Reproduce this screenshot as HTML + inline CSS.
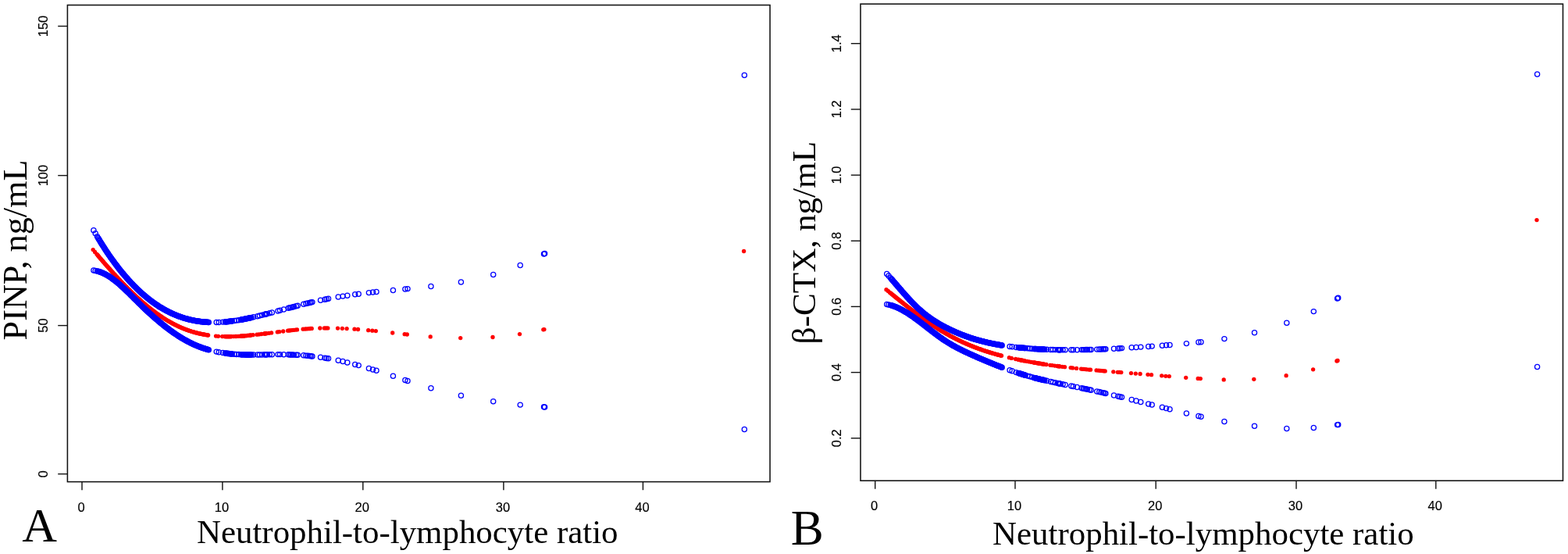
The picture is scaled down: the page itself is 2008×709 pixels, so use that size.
<!DOCTYPE html>
<html><head><meta charset="utf-8"><title>NLR plots</title>
<style>
html,body{margin:0;padding:0;background:#fff;}
body{width:2008px;height:709px;overflow:hidden;position:relative;}
svg{position:absolute;left:0;top:0;}
.tk{font-family:"Liberation Sans",Arial,sans-serif;font-size:16.5px;fill:#000;stroke:#000;stroke-width:0.15px;}
.ttl{font-family:"Liberation Serif","Times New Roman",serif;font-size:42.9px;fill:#000;}
.big{font-family:"Liberation Serif","Times New Roman",serif;font-size:62px;fill:#000;}
</style></head><body>
<svg width="2008" height="709" viewBox="0 0 2008 709">
<rect width="2008" height="709" fill="#fff"/>
<rect x="86.4" y="6.5" width="899.65" height="610.1" fill="none" stroke="#111" stroke-width="1.55"/>
<line x1="74.2" y1="606.6" x2="86.4" y2="606.6" stroke="#111" stroke-width="1.4"/>
<text transform="translate(61.4,606.6) rotate(-90)" text-anchor="middle" class="tk">0</text>
<line x1="74.2" y1="416.6" x2="86.4" y2="416.6" stroke="#111" stroke-width="1.4"/>
<text transform="translate(61.4,416.6) rotate(-90)" text-anchor="middle" class="tk">50</text>
<line x1="74.2" y1="224.6" x2="86.4" y2="224.6" stroke="#111" stroke-width="1.4"/>
<text transform="translate(61.4,224.6) rotate(-90)" text-anchor="middle" class="tk">100</text>
<line x1="74.2" y1="33.5" x2="86.4" y2="33.5" stroke="#111" stroke-width="1.4"/>
<text transform="translate(61.4,33.5) rotate(-90)" text-anchor="middle" class="tk">150</text>
<line x1="105.0" y1="616.6" x2="105.0" y2="627.2" stroke="#111" stroke-width="1.4"/>
<text x="104.0" y="654.5" text-anchor="middle" class="tk">0</text>
<line x1="284.9" y1="616.6" x2="284.9" y2="627.2" stroke="#111" stroke-width="1.4"/>
<text x="283.9" y="654.5" text-anchor="middle" class="tk">10</text>
<line x1="464.8" y1="616.6" x2="464.8" y2="627.2" stroke="#111" stroke-width="1.4"/>
<text x="463.8" y="654.5" text-anchor="middle" class="tk">20</text>
<line x1="644.9" y1="616.6" x2="644.9" y2="627.2" stroke="#111" stroke-width="1.4"/>
<text x="643.9" y="654.5" text-anchor="middle" class="tk">30</text>
<line x1="823.4" y1="616.6" x2="823.4" y2="627.2" stroke="#111" stroke-width="1.4"/>
<text x="822.4" y="654.5" text-anchor="middle" class="tk">40</text>
<text x="252.0" y="694.5" class="ttl">Neutrophil-to-lymphocyte ratio</text>
<text transform="translate(33.8,435.4) rotate(-90)" class="ttl" style="font-size:44.2px">PINP, ng/mL</text>
<text x="28.3" y="692.9" class="big">A</text>
<rect x="1102" y="5.1" width="899.5" height="610.1" fill="none" stroke="#111" stroke-width="1.55"/>
<line x1="1089.8" y1="560.8" x2="1102" y2="560.8" stroke="#111" stroke-width="1.4"/>
<text transform="translate(1076.5,560.8) rotate(-90)" text-anchor="middle" class="tk">0.2</text>
<line x1="1089.8" y1="476.6" x2="1102" y2="476.6" stroke="#111" stroke-width="1.4"/>
<text transform="translate(1076.5,476.6) rotate(-90)" text-anchor="middle" class="tk">0.4</text>
<line x1="1089.8" y1="392.4" x2="1102" y2="392.4" stroke="#111" stroke-width="1.4"/>
<text transform="translate(1076.5,392.4) rotate(-90)" text-anchor="middle" class="tk">0.6</text>
<line x1="1089.8" y1="308.3" x2="1102" y2="308.3" stroke="#111" stroke-width="1.4"/>
<text transform="translate(1076.5,308.3) rotate(-90)" text-anchor="middle" class="tk">0.8</text>
<line x1="1089.8" y1="224.1" x2="1102" y2="224.1" stroke="#111" stroke-width="1.4"/>
<text transform="translate(1076.5,224.1) rotate(-90)" text-anchor="middle" class="tk">1.0</text>
<line x1="1089.8" y1="139.9" x2="1102" y2="139.9" stroke="#111" stroke-width="1.4"/>
<text transform="translate(1076.5,139.9) rotate(-90)" text-anchor="middle" class="tk">1.2</text>
<line x1="1089.8" y1="55.7" x2="1102" y2="55.7" stroke="#111" stroke-width="1.4"/>
<text transform="translate(1076.5,55.7) rotate(-90)" text-anchor="middle" class="tk">1.4</text>
<line x1="1120.7" y1="615.2" x2="1120.7" y2="625.8" stroke="#111" stroke-width="1.4"/>
<text x="1119.7" y="653.1" text-anchor="middle" class="tk">0</text>
<line x1="1300.0" y1="615.2" x2="1300.0" y2="625.8" stroke="#111" stroke-width="1.4"/>
<text x="1299.0" y="653.1" text-anchor="middle" class="tk">10</text>
<line x1="1480.2" y1="615.2" x2="1480.2" y2="625.8" stroke="#111" stroke-width="1.4"/>
<text x="1479.2" y="653.1" text-anchor="middle" class="tk">20</text>
<line x1="1660.0" y1="615.2" x2="1660.0" y2="625.8" stroke="#111" stroke-width="1.4"/>
<text x="1659.0" y="653.1" text-anchor="middle" class="tk">30</text>
<line x1="1838.8" y1="615.2" x2="1838.8" y2="625.8" stroke="#111" stroke-width="1.4"/>
<text x="1837.8" y="653.1" text-anchor="middle" class="tk">40</text>
<text x="1271.1" y="697.2" class="ttl">Neutrophil-to-lymphocyte ratio</text>
<text transform="translate(1043.8,440.4) rotate(-90)" class="ttl" style="font-size:43.2px">β-CTX, ng/mL</text>
<text x="1012.8" y="697.0" class="big" style="font-size:63px">B</text>
<g fill="#ff0000"><circle cx="119.2" cy="319.6" r="2.65"/><circle cx="121.5" cy="322.4" r="2.65"/><circle cx="123.8" cy="325.1" r="2.65"/><circle cx="125.0" cy="326.5" r="2.65"/><circle cx="125.8" cy="327.5" r="2.65"/><circle cx="126.6" cy="328.4" r="2.65"/><circle cx="127.4" cy="329.3" r="2.65"/><circle cx="128.2" cy="330.3" r="2.65"/><circle cx="129.0" cy="331.2" r="2.65"/><circle cx="129.8" cy="332.1" r="2.65"/><circle cx="130.6" cy="333.1" r="2.65"/><circle cx="131.4" cy="334.0" r="2.65"/><circle cx="132.2" cy="334.9" r="2.65"/><circle cx="133.0" cy="335.8" r="2.65"/><circle cx="133.8" cy="336.8" r="2.65"/><circle cx="134.6" cy="337.7" r="2.65"/><circle cx="135.4" cy="338.6" r="2.65"/><circle cx="136.2" cy="339.5" r="2.65"/><circle cx="137.0" cy="340.4" r="2.65"/><circle cx="137.8" cy="341.3" r="2.65"/><circle cx="138.6" cy="342.2" r="2.65"/><circle cx="139.4" cy="343.1" r="2.65"/><circle cx="140.2" cy="344.0" r="2.65"/><circle cx="141.0" cy="344.9" r="2.65"/><circle cx="141.8" cy="345.8" r="2.65"/><circle cx="142.6" cy="346.7" r="2.65"/><circle cx="143.4" cy="347.6" r="2.65"/><circle cx="144.2" cy="348.5" r="2.65"/><circle cx="145.0" cy="349.4" r="2.65"/><circle cx="145.8" cy="350.3" r="2.65"/><circle cx="146.6" cy="351.2" r="2.65"/><circle cx="147.4" cy="352.0" r="2.65"/><circle cx="148.2" cy="352.9" r="2.65"/><circle cx="149.0" cy="353.8" r="2.65"/><circle cx="149.8" cy="354.6" r="2.65"/><circle cx="150.6" cy="355.5" r="2.65"/><circle cx="151.4" cy="356.4" r="2.65"/><circle cx="152.2" cy="357.2" r="2.65"/><circle cx="153.0" cy="358.1" r="2.65"/><circle cx="153.8" cy="358.9" r="2.65"/><circle cx="154.6" cy="359.8" r="2.65"/><circle cx="155.4" cy="360.6" r="2.65"/><circle cx="156.2" cy="361.4" r="2.65"/><circle cx="157.0" cy="362.3" r="2.65"/><circle cx="157.8" cy="363.1" r="2.65"/><circle cx="158.6" cy="363.9" r="2.65"/><circle cx="159.4" cy="364.7" r="2.65"/><circle cx="160.2" cy="365.6" r="2.65"/><circle cx="161.0" cy="366.4" r="2.65"/><circle cx="161.8" cy="367.2" r="2.65"/><circle cx="162.6" cy="368.0" r="2.65"/><circle cx="163.4" cy="368.8" r="2.65"/><circle cx="164.2" cy="369.6" r="2.65"/><circle cx="165.0" cy="370.4" r="2.65"/><circle cx="165.8" cy="371.2" r="2.65"/><circle cx="166.6" cy="372.0" r="2.65"/><circle cx="167.4" cy="372.8" r="2.65"/><circle cx="168.2" cy="373.5" r="2.65"/><circle cx="169.0" cy="374.3" r="2.65"/><circle cx="169.8" cy="375.1" r="2.65"/><circle cx="170.6" cy="375.8" r="2.65"/><circle cx="171.4" cy="376.6" r="2.65"/><circle cx="172.2" cy="377.4" r="2.65"/><circle cx="173.0" cy="378.1" r="2.65"/><circle cx="173.8" cy="378.9" r="2.65"/><circle cx="174.6" cy="379.6" r="2.65"/><circle cx="175.4" cy="380.3" r="2.65"/><circle cx="176.2" cy="381.1" r="2.65"/><circle cx="177.0" cy="381.8" r="2.65"/><circle cx="177.8" cy="382.5" r="2.65"/><circle cx="178.6" cy="383.2" r="2.65"/><circle cx="179.4" cy="384.0" r="2.65"/><circle cx="180.2" cy="384.7" r="2.65"/><circle cx="181.0" cy="385.4" r="2.65"/><circle cx="181.8" cy="386.1" r="2.65"/><circle cx="182.6" cy="386.8" r="2.65"/><circle cx="183.4" cy="387.5" r="2.65"/><circle cx="184.2" cy="388.1" r="2.65"/><circle cx="185.0" cy="388.8" r="2.65"/><circle cx="185.8" cy="389.5" r="2.65"/><circle cx="186.6" cy="390.2" r="2.65"/><circle cx="187.4" cy="390.8" r="2.65"/><circle cx="188.2" cy="391.5" r="2.65"/><circle cx="189.0" cy="392.1" r="2.65"/><circle cx="189.8" cy="392.8" r="2.65"/><circle cx="190.6" cy="393.4" r="2.65"/><circle cx="191.4" cy="394.1" r="2.65"/><circle cx="192.2" cy="394.7" r="2.65"/><circle cx="193.0" cy="395.3" r="2.65"/><circle cx="193.8" cy="396.0" r="2.65"/><circle cx="194.6" cy="396.6" r="2.65"/><circle cx="195.4" cy="397.2" r="2.65"/><circle cx="196.2" cy="397.8" r="2.65"/><circle cx="197.0" cy="398.4" r="2.65"/><circle cx="197.8" cy="399.0" r="2.65"/><circle cx="198.6" cy="399.6" r="2.65"/><circle cx="199.4" cy="400.2" r="2.65"/><circle cx="200.2" cy="400.8" r="2.65"/><circle cx="201.0" cy="401.3" r="2.65"/><circle cx="201.8" cy="401.9" r="2.65"/><circle cx="202.6" cy="402.5" r="2.65"/><circle cx="203.4" cy="403.0" r="2.65"/><circle cx="204.2" cy="403.6" r="2.65"/><circle cx="205.0" cy="404.1" r="2.65"/><circle cx="205.8" cy="404.7" r="2.65"/><circle cx="206.6" cy="405.2" r="2.65"/><circle cx="207.4" cy="405.7" r="2.65"/><circle cx="208.2" cy="406.3" r="2.65"/><circle cx="209.0" cy="406.8" r="2.65"/><circle cx="209.8" cy="407.3" r="2.65"/><circle cx="210.6" cy="407.8" r="2.65"/><circle cx="211.4" cy="408.3" r="2.65"/><circle cx="212.2" cy="408.8" r="2.65"/><circle cx="213.0" cy="409.3" r="2.65"/><circle cx="213.8" cy="409.8" r="2.65"/><circle cx="214.6" cy="410.3" r="2.65"/><circle cx="215.4" cy="410.7" r="2.65"/><circle cx="216.2" cy="411.2" r="2.65"/><circle cx="217.0" cy="411.7" r="2.65"/><circle cx="217.8" cy="412.1" r="2.65"/><circle cx="218.6" cy="412.6" r="2.65"/><circle cx="219.4" cy="413.0" r="2.65"/><circle cx="220.2" cy="413.5" r="2.65"/><circle cx="221.0" cy="413.9" r="2.65"/><circle cx="221.8" cy="414.3" r="2.65"/><circle cx="222.6" cy="414.7" r="2.65"/><circle cx="223.4" cy="415.2" r="2.65"/><circle cx="224.2" cy="415.6" r="2.65"/><circle cx="225.0" cy="416.0" r="2.65"/><circle cx="225.8" cy="416.4" r="2.65"/><circle cx="226.6" cy="416.8" r="2.65"/><circle cx="227.4" cy="417.1" r="2.65"/><circle cx="228.2" cy="417.5" r="2.65"/><circle cx="229.0" cy="417.9" r="2.65"/><circle cx="229.8" cy="418.3" r="2.65"/><circle cx="230.6" cy="418.6" r="2.65"/><circle cx="231.4" cy="419.0" r="2.65"/><circle cx="232.2" cy="419.3" r="2.65"/><circle cx="233.0" cy="419.7" r="2.65"/><circle cx="233.8" cy="420.0" r="2.65"/><circle cx="234.6" cy="420.3" r="2.65"/><circle cx="235.4" cy="420.7" r="2.65"/><circle cx="236.2" cy="421.0" r="2.65"/><circle cx="237.0" cy="421.3" r="2.65"/><circle cx="237.8" cy="421.6" r="2.65"/><circle cx="238.6" cy="421.9" r="2.65"/><circle cx="239.4" cy="422.2" r="2.65"/><circle cx="240.2" cy="422.5" r="2.65"/><circle cx="241.0" cy="422.8" r="2.65"/><circle cx="241.8" cy="423.0" r="2.65"/><circle cx="242.6" cy="423.3" r="2.65"/><circle cx="243.4" cy="423.6" r="2.65"/><circle cx="244.2" cy="423.8" r="2.65"/><circle cx="245.0" cy="424.1" r="2.65"/><circle cx="245.8" cy="424.3" r="2.65"/><circle cx="246.6" cy="424.6" r="2.65"/><circle cx="247.4" cy="424.8" r="2.65"/><circle cx="248.2" cy="425.0" r="2.65"/><circle cx="249.0" cy="425.3" r="2.65"/><circle cx="249.8" cy="425.5" r="2.65"/><circle cx="250.6" cy="425.7" r="2.65"/><circle cx="251.4" cy="425.9" r="2.65"/><circle cx="252.2" cy="426.1" r="2.65"/><circle cx="253.0" cy="426.3" r="2.65"/><circle cx="253.8" cy="426.5" r="2.65"/><circle cx="254.6" cy="426.7" r="2.65"/><circle cx="255.4" cy="426.9" r="2.65"/><circle cx="256.2" cy="427.1" r="2.65"/><circle cx="257.0" cy="427.2" r="2.65"/><circle cx="257.8" cy="427.4" r="2.65"/><circle cx="258.6" cy="427.6" r="2.65"/><circle cx="259.4" cy="427.7" r="2.65"/><circle cx="260.2" cy="427.9" r="2.65"/><circle cx="261.0" cy="428.0" r="2.65"/><circle cx="261.8" cy="428.2" r="2.65"/><circle cx="262.6" cy="428.3" r="2.65"/><circle cx="263.4" cy="428.5" r="2.65"/><circle cx="264.2" cy="428.6" r="2.65"/><circle cx="265.0" cy="428.7" r="2.65"/><circle cx="265.8" cy="428.8" r="2.65"/><circle cx="266.6" cy="429.0" r="2.65"/><circle cx="276.5" cy="430.1" r="2.65"/><circle cx="279.5" cy="430.3" r="2.65"/><circle cx="284.7" cy="430.6" r="2.65"/><circle cx="287.7" cy="430.6" r="2.65"/><circle cx="288.5" cy="430.7" r="2.65"/><circle cx="289.3" cy="430.7" r="2.65"/><circle cx="290.1" cy="430.7" r="2.65"/><circle cx="290.9" cy="430.7" r="2.65"/><circle cx="291.7" cy="430.7" r="2.65"/><circle cx="292.5" cy="430.7" r="2.65"/><circle cx="293.3" cy="430.7" r="2.65"/><circle cx="294.1" cy="430.7" r="2.65"/><circle cx="294.9" cy="430.7" r="2.65"/><circle cx="295.7" cy="430.7" r="2.65"/><circle cx="296.5" cy="430.6" r="2.65"/><circle cx="299.3" cy="430.6" r="2.65"/><circle cx="302.1" cy="430.5" r="2.65"/><circle cx="305.0" cy="430.3" r="2.65"/><circle cx="307.7" cy="430.2" r="2.65"/><circle cx="308.5" cy="430.1" r="2.65"/><circle cx="309.3" cy="430.1" r="2.65"/><circle cx="310.1" cy="430.0" r="2.65"/><circle cx="310.9" cy="429.9" r="2.65"/><circle cx="311.7" cy="429.9" r="2.65"/><circle cx="312.5" cy="429.8" r="2.65"/><circle cx="313.3" cy="429.8" r="2.65"/><circle cx="314.1" cy="429.7" r="2.65"/><circle cx="314.9" cy="429.6" r="2.65"/><circle cx="315.7" cy="429.6" r="2.65"/><circle cx="316.5" cy="429.5" r="2.65"/><circle cx="317.3" cy="429.4" r="2.65"/><circle cx="318.1" cy="429.3" r="2.65"/><circle cx="318.9" cy="429.3" r="2.65"/><circle cx="319.7" cy="429.2" r="2.65"/><circle cx="320.5" cy="429.1" r="2.65"/><circle cx="321.3" cy="429.0" r="2.65"/><circle cx="324.0" cy="428.7" r="2.65"/><circle cx="329.0" cy="428.2" r="2.65"/><circle cx="331.7" cy="427.9" r="2.65"/><circle cx="334.8" cy="427.5" r="2.65"/><circle cx="338.1" cy="427.1" r="2.65"/><circle cx="338.9" cy="427.0" r="2.65"/><circle cx="339.7" cy="426.9" r="2.65"/><circle cx="340.5" cy="426.8" r="2.65"/><circle cx="341.3" cy="426.7" r="2.65"/><circle cx="344.5" cy="426.3" r="2.65"/><circle cx="347.6" cy="425.9" r="2.65"/><circle cx="355.3" cy="424.9" r="2.65"/><circle cx="357.8" cy="424.6" r="2.65"/><circle cx="362.7" cy="424.0" r="2.65"/><circle cx="368.6" cy="423.2" r="2.65"/><circle cx="370.5" cy="423.0" r="2.65"/><circle cx="372.1" cy="422.8" r="2.65"/><circle cx="374.0" cy="422.6" r="2.65"/><circle cx="375.8" cy="422.4" r="2.65"/><circle cx="378.5" cy="422.1" r="2.65"/><circle cx="380.5" cy="421.9" r="2.65"/><circle cx="388.1" cy="421.2" r="2.65"/><circle cx="391.1" cy="421.0" r="2.65"/><circle cx="393.5" cy="420.8" r="2.65"/><circle cx="395.8" cy="420.7" r="2.65"/><circle cx="397.5" cy="420.5" r="2.65"/><circle cx="399.2" cy="420.4" r="2.65"/><circle cx="409.8" cy="420.0" r="2.65"/><circle cx="415.3" cy="419.9" r="2.65"/><circle cx="417.5" cy="419.9" r="2.65"/><circle cx="419.8" cy="419.9" r="2.65"/><circle cx="432.5" cy="420.1" r="2.65"/><circle cx="438.3" cy="420.3" r="2.65"/><circle cx="444.1" cy="420.6" r="2.65"/><circle cx="454.0" cy="421.2" r="2.65"/><circle cx="458.5" cy="421.5" r="2.65"/><circle cx="471.7" cy="422.7" r="2.65"/><circle cx="476.8" cy="423.2" r="2.65"/><circle cx="481.3" cy="423.6" r="2.65"/><circle cx="502.7" cy="426.0" r="2.65"/><circle cx="518.2" cy="427.7" r="2.65"/><circle cx="521.3" cy="428.0" r="2.65"/><circle cx="551.2" cy="430.9" r="2.65"/><circle cx="589.7" cy="432.6" r="2.65"/><circle cx="631.0" cy="431.5" r="2.65"/><circle cx="665.5" cy="427.6" r="2.65"/><circle cx="695.8" cy="421.8" r="2.65"/><circle cx="696.9" cy="421.6" r="2.65"/><circle cx="952.6" cy="321.5" r="2.65"/></g>
<g fill="none" stroke="#0000ff" stroke-width="1.25"><circle cx="119.9" cy="294.8" r="3.1"/><circle cx="122.2" cy="298.8" r="3.1"/><circle cx="124.5" cy="302.7" r="3.1"/><circle cx="125.7" cy="304.7" r="3.1"/><circle cx="126.5" cy="306.0" r="3.1"/><circle cx="127.3" cy="307.3" r="3.1"/><circle cx="128.1" cy="308.6" r="3.1"/><circle cx="128.9" cy="309.9" r="3.1"/><circle cx="129.7" cy="311.2" r="3.1"/><circle cx="130.5" cy="312.5" r="3.1"/><circle cx="131.3" cy="313.8" r="3.1"/><circle cx="132.1" cy="315.0" r="3.1"/><circle cx="132.9" cy="316.3" r="3.1"/><circle cx="133.7" cy="317.5" r="3.1"/><circle cx="134.5" cy="318.7" r="3.1"/><circle cx="135.3" cy="319.9" r="3.1"/><circle cx="136.1" cy="321.2" r="3.1"/><circle cx="136.9" cy="322.4" r="3.1"/><circle cx="137.7" cy="323.5" r="3.1"/><circle cx="138.5" cy="324.7" r="3.1"/><circle cx="139.3" cy="325.9" r="3.1"/><circle cx="140.1" cy="327.1" r="3.1"/><circle cx="140.9" cy="328.2" r="3.1"/><circle cx="141.7" cy="329.4" r="3.1"/><circle cx="142.5" cy="330.5" r="3.1"/><circle cx="143.3" cy="331.6" r="3.1"/><circle cx="144.1" cy="332.7" r="3.1"/><circle cx="144.9" cy="333.8" r="3.1"/><circle cx="145.7" cy="334.9" r="3.1"/><circle cx="146.5" cy="336.0" r="3.1"/><circle cx="147.3" cy="337.1" r="3.1"/><circle cx="148.1" cy="338.2" r="3.1"/><circle cx="148.9" cy="339.2" r="3.1"/><circle cx="149.7" cy="340.3" r="3.1"/><circle cx="150.5" cy="341.3" r="3.1"/><circle cx="151.3" cy="342.4" r="3.1"/><circle cx="152.1" cy="343.4" r="3.1"/><circle cx="152.9" cy="344.4" r="3.1"/><circle cx="153.7" cy="345.4" r="3.1"/><circle cx="154.5" cy="346.4" r="3.1"/><circle cx="155.3" cy="347.4" r="3.1"/><circle cx="156.1" cy="348.4" r="3.1"/><circle cx="156.9" cy="349.4" r="3.1"/><circle cx="157.7" cy="350.3" r="3.1"/><circle cx="158.5" cy="351.3" r="3.1"/><circle cx="159.3" cy="352.2" r="3.1"/><circle cx="160.1" cy="353.2" r="3.1"/><circle cx="160.9" cy="354.1" r="3.1"/><circle cx="161.7" cy="355.0" r="3.1"/><circle cx="162.5" cy="355.9" r="3.1"/><circle cx="163.3" cy="356.8" r="3.1"/><circle cx="164.1" cy="357.7" r="3.1"/><circle cx="164.9" cy="358.6" r="3.1"/><circle cx="165.7" cy="359.5" r="3.1"/><circle cx="166.5" cy="360.4" r="3.1"/><circle cx="167.3" cy="361.2" r="3.1"/><circle cx="168.1" cy="362.1" r="3.1"/><circle cx="168.9" cy="362.9" r="3.1"/><circle cx="169.7" cy="363.8" r="3.1"/><circle cx="170.5" cy="364.6" r="3.1"/><circle cx="171.3" cy="365.4" r="3.1"/><circle cx="172.1" cy="366.2" r="3.1"/><circle cx="172.9" cy="367.1" r="3.1"/><circle cx="173.7" cy="367.8" r="3.1"/><circle cx="174.5" cy="368.6" r="3.1"/><circle cx="175.3" cy="369.4" r="3.1"/><circle cx="176.1" cy="370.2" r="3.1"/><circle cx="176.9" cy="371.0" r="3.1"/><circle cx="177.7" cy="371.7" r="3.1"/><circle cx="178.5" cy="372.5" r="3.1"/><circle cx="179.3" cy="373.2" r="3.1"/><circle cx="180.1" cy="373.9" r="3.1"/><circle cx="180.9" cy="374.7" r="3.1"/><circle cx="181.7" cy="375.4" r="3.1"/><circle cx="182.5" cy="376.1" r="3.1"/><circle cx="183.3" cy="376.8" r="3.1"/><circle cx="184.1" cy="377.5" r="3.1"/><circle cx="184.9" cy="378.2" r="3.1"/><circle cx="185.7" cy="378.8" r="3.1"/><circle cx="186.5" cy="379.5" r="3.1"/><circle cx="187.3" cy="380.2" r="3.1"/><circle cx="188.1" cy="380.8" r="3.1"/><circle cx="188.9" cy="381.5" r="3.1"/><circle cx="189.7" cy="382.1" r="3.1"/><circle cx="190.5" cy="382.7" r="3.1"/><circle cx="191.3" cy="383.4" r="3.1"/><circle cx="192.1" cy="384.0" r="3.1"/><circle cx="192.9" cy="384.6" r="3.1"/><circle cx="193.7" cy="385.2" r="3.1"/><circle cx="194.5" cy="385.8" r="3.1"/><circle cx="195.3" cy="386.4" r="3.1"/><circle cx="196.1" cy="387.0" r="3.1"/><circle cx="196.9" cy="387.5" r="3.1"/><circle cx="197.7" cy="388.1" r="3.1"/><circle cx="198.5" cy="388.7" r="3.1"/><circle cx="199.3" cy="389.2" r="3.1"/><circle cx="200.1" cy="389.8" r="3.1"/><circle cx="200.9" cy="390.3" r="3.1"/><circle cx="201.7" cy="390.8" r="3.1"/><circle cx="202.5" cy="391.3" r="3.1"/><circle cx="203.3" cy="391.9" r="3.1"/><circle cx="204.1" cy="392.4" r="3.1"/><circle cx="204.9" cy="392.9" r="3.1"/><circle cx="205.7" cy="393.4" r="3.1"/><circle cx="206.5" cy="393.8" r="3.1"/><circle cx="207.3" cy="394.3" r="3.1"/><circle cx="208.1" cy="394.8" r="3.1"/><circle cx="208.9" cy="395.3" r="3.1"/><circle cx="209.7" cy="395.7" r="3.1"/><circle cx="210.5" cy="396.2" r="3.1"/><circle cx="211.3" cy="396.6" r="3.1"/><circle cx="212.1" cy="397.0" r="3.1"/><circle cx="212.9" cy="397.5" r="3.1"/><circle cx="213.7" cy="397.9" r="3.1"/><circle cx="214.5" cy="398.3" r="3.1"/><circle cx="215.3" cy="398.7" r="3.1"/><circle cx="216.1" cy="399.1" r="3.1"/><circle cx="216.9" cy="399.5" r="3.1"/><circle cx="217.7" cy="399.9" r="3.1"/><circle cx="218.5" cy="400.3" r="3.1"/><circle cx="219.3" cy="400.7" r="3.1"/><circle cx="220.1" cy="401.0" r="3.1"/><circle cx="220.9" cy="401.4" r="3.1"/><circle cx="221.7" cy="401.8" r="3.1"/><circle cx="222.5" cy="402.1" r="3.1"/><circle cx="223.3" cy="402.5" r="3.1"/><circle cx="224.1" cy="402.8" r="3.1"/><circle cx="224.9" cy="403.1" r="3.1"/><circle cx="225.7" cy="403.5" r="3.1"/><circle cx="226.5" cy="403.8" r="3.1"/><circle cx="227.3" cy="404.1" r="3.1"/><circle cx="228.1" cy="404.4" r="3.1"/><circle cx="228.9" cy="404.7" r="3.1"/><circle cx="229.7" cy="405.0" r="3.1"/><circle cx="230.5" cy="405.3" r="3.1"/><circle cx="231.3" cy="405.6" r="3.1"/><circle cx="232.1" cy="405.8" r="3.1"/><circle cx="232.9" cy="406.1" r="3.1"/><circle cx="233.7" cy="406.4" r="3.1"/><circle cx="234.5" cy="406.6" r="3.1"/><circle cx="235.3" cy="406.9" r="3.1"/><circle cx="236.1" cy="407.1" r="3.1"/><circle cx="236.9" cy="407.4" r="3.1"/><circle cx="237.7" cy="407.6" r="3.1"/><circle cx="238.5" cy="407.8" r="3.1"/><circle cx="239.3" cy="408.0" r="3.1"/><circle cx="240.1" cy="408.3" r="3.1"/><circle cx="240.9" cy="408.5" r="3.1"/><circle cx="241.7" cy="408.7" r="3.1"/><circle cx="242.5" cy="408.9" r="3.1"/><circle cx="243.3" cy="409.1" r="3.1"/><circle cx="244.1" cy="409.3" r="3.1"/><circle cx="244.9" cy="409.4" r="3.1"/><circle cx="245.7" cy="409.6" r="3.1"/><circle cx="246.5" cy="409.8" r="3.1"/><circle cx="247.3" cy="409.9" r="3.1"/><circle cx="248.1" cy="410.1" r="3.1"/><circle cx="248.9" cy="410.3" r="3.1"/><circle cx="249.7" cy="410.4" r="3.1"/><circle cx="250.5" cy="410.6" r="3.1"/><circle cx="251.3" cy="410.7" r="3.1"/><circle cx="252.1" cy="410.8" r="3.1"/><circle cx="252.9" cy="411.0" r="3.1"/><circle cx="253.7" cy="411.1" r="3.1"/><circle cx="254.5" cy="411.2" r="3.1"/><circle cx="255.3" cy="411.3" r="3.1"/><circle cx="256.1" cy="411.4" r="3.1"/><circle cx="256.9" cy="411.5" r="3.1"/><circle cx="257.7" cy="411.6" r="3.1"/><circle cx="258.5" cy="411.7" r="3.1"/><circle cx="259.3" cy="411.8" r="3.1"/><circle cx="260.1" cy="411.9" r="3.1"/><circle cx="260.9" cy="412.0" r="3.1"/><circle cx="261.7" cy="412.0" r="3.1"/><circle cx="262.5" cy="412.1" r="3.1"/><circle cx="263.3" cy="412.2" r="3.1"/><circle cx="264.1" cy="412.2" r="3.1"/><circle cx="264.9" cy="412.3" r="3.1"/><circle cx="265.7" cy="412.3" r="3.1"/><circle cx="266.5" cy="412.4" r="3.1"/><circle cx="267.3" cy="412.4" r="3.1"/><circle cx="277.2" cy="412.5" r="3.1"/><circle cx="280.2" cy="412.4" r="3.1"/><circle cx="285.4" cy="412.1" r="3.1"/><circle cx="288.4" cy="411.9" r="3.1"/><circle cx="289.2" cy="411.8" r="3.1"/><circle cx="290.0" cy="411.8" r="3.1"/><circle cx="290.8" cy="411.7" r="3.1"/><circle cx="291.6" cy="411.6" r="3.1"/><circle cx="292.4" cy="411.5" r="3.1"/><circle cx="293.2" cy="411.4" r="3.1"/><circle cx="294.0" cy="411.3" r="3.1"/><circle cx="294.8" cy="411.2" r="3.1"/><circle cx="295.6" cy="411.1" r="3.1"/><circle cx="296.4" cy="411.0" r="3.1"/><circle cx="297.2" cy="410.9" r="3.1"/><circle cx="300.0" cy="410.5" r="3.1"/><circle cx="302.8" cy="410.1" r="3.1"/><circle cx="305.7" cy="409.7" r="3.1"/><circle cx="308.4" cy="409.2" r="3.1"/><circle cx="309.2" cy="409.0" r="3.1"/><circle cx="310.0" cy="408.9" r="3.1"/><circle cx="310.8" cy="408.7" r="3.1"/><circle cx="311.6" cy="408.6" r="3.1"/><circle cx="312.4" cy="408.4" r="3.1"/><circle cx="313.2" cy="408.3" r="3.1"/><circle cx="314.0" cy="408.1" r="3.1"/><circle cx="314.8" cy="408.0" r="3.1"/><circle cx="315.6" cy="407.8" r="3.1"/><circle cx="316.4" cy="407.6" r="3.1"/><circle cx="317.2" cy="407.5" r="3.1"/><circle cx="318.0" cy="407.3" r="3.1"/><circle cx="318.8" cy="407.1" r="3.1"/><circle cx="319.6" cy="407.0" r="3.1"/><circle cx="320.4" cy="406.8" r="3.1"/><circle cx="321.2" cy="406.6" r="3.1"/><circle cx="322.0" cy="406.4" r="3.1"/><circle cx="324.7" cy="405.8" r="3.1"/><circle cx="329.7" cy="404.7" r="3.1"/><circle cx="332.4" cy="404.0" r="3.1"/><circle cx="335.5" cy="403.3" r="3.1"/><circle cx="338.8" cy="402.4" r="3.1"/><circle cx="339.6" cy="402.2" r="3.1"/><circle cx="340.4" cy="402.0" r="3.1"/><circle cx="341.2" cy="401.8" r="3.1"/><circle cx="342.0" cy="401.6" r="3.1"/><circle cx="345.2" cy="400.8" r="3.1"/><circle cx="348.3" cy="400.0" r="3.1"/><circle cx="356.0" cy="397.9" r="3.1"/><circle cx="358.5" cy="397.2" r="3.1"/><circle cx="363.4" cy="395.9" r="3.1"/><circle cx="369.3" cy="394.3" r="3.1"/><circle cx="371.2" cy="393.8" r="3.1"/><circle cx="372.8" cy="393.4" r="3.1"/><circle cx="374.7" cy="392.9" r="3.1"/><circle cx="376.5" cy="392.4" r="3.1"/><circle cx="379.2" cy="391.7" r="3.1"/><circle cx="381.2" cy="391.2" r="3.1"/><circle cx="388.8" cy="389.3" r="3.1"/><circle cx="391.8" cy="388.5" r="3.1"/><circle cx="394.2" cy="388.0" r="3.1"/><circle cx="396.5" cy="387.4" r="3.1"/><circle cx="398.2" cy="387.0" r="3.1"/><circle cx="399.9" cy="386.6" r="3.1"/><circle cx="410.5" cy="384.3" r="3.1"/><circle cx="416.0" cy="383.2" r="3.1"/><circle cx="418.2" cy="382.8" r="3.1"/><circle cx="420.5" cy="382.3" r="3.1"/><circle cx="433.2" cy="380.0" r="3.1"/><circle cx="439.0" cy="379.1" r="3.1"/><circle cx="444.8" cy="378.2" r="3.1"/><circle cx="454.7" cy="376.8" r="3.1"/><circle cx="459.2" cy="376.2" r="3.1"/><circle cx="472.4" cy="374.6" r="3.1"/><circle cx="477.5" cy="374.0" r="3.1"/><circle cx="482.0" cy="373.5" r="3.1"/><circle cx="503.4" cy="371.4" r="3.1"/><circle cx="518.9" cy="369.9" r="3.1"/><circle cx="522.0" cy="369.6" r="3.1"/><circle cx="551.9" cy="366.5" r="3.1"/><circle cx="590.4" cy="361.0" r="3.1"/><circle cx="631.7" cy="351.5" r="3.1"/><circle cx="666.2" cy="339.5" r="3.1"/><circle cx="696.5" cy="325.0" r="3.1"/><circle cx="697.6" cy="324.4" r="3.1"/><circle cx="119.9" cy="346.0" r="3.1"/><circle cx="122.2" cy="346.4" r="3.1"/><circle cx="124.5" cy="346.9" r="3.1"/><circle cx="125.7" cy="347.2" r="3.1"/><circle cx="126.5" cy="347.4" r="3.1"/><circle cx="127.3" cy="347.7" r="3.1"/><circle cx="128.1" cy="348.0" r="3.1"/><circle cx="128.9" cy="348.3" r="3.1"/><circle cx="129.7" cy="348.6" r="3.1"/><circle cx="130.5" cy="348.9" r="3.1"/><circle cx="131.3" cy="349.2" r="3.1"/><circle cx="132.1" cy="349.6" r="3.1"/><circle cx="132.9" cy="350.0" r="3.1"/><circle cx="133.7" cy="350.4" r="3.1"/><circle cx="134.5" cy="350.8" r="3.1"/><circle cx="135.3" cy="351.2" r="3.1"/><circle cx="136.1" cy="351.6" r="3.1"/><circle cx="136.9" cy="352.1" r="3.1"/><circle cx="137.7" cy="352.5" r="3.1"/><circle cx="138.5" cy="353.0" r="3.1"/><circle cx="139.3" cy="353.5" r="3.1"/><circle cx="140.1" cy="354.0" r="3.1"/><circle cx="140.9" cy="354.5" r="3.1"/><circle cx="141.7" cy="355.1" r="3.1"/><circle cx="142.5" cy="355.6" r="3.1"/><circle cx="143.3" cy="356.2" r="3.1"/><circle cx="144.1" cy="356.8" r="3.1"/><circle cx="144.9" cy="357.4" r="3.1"/><circle cx="145.7" cy="357.9" r="3.1"/><circle cx="146.5" cy="358.6" r="3.1"/><circle cx="147.3" cy="359.2" r="3.1"/><circle cx="148.1" cy="359.8" r="3.1"/><circle cx="148.9" cy="360.5" r="3.1"/><circle cx="149.7" cy="361.1" r="3.1"/><circle cx="150.5" cy="361.8" r="3.1"/><circle cx="151.3" cy="362.5" r="3.1"/><circle cx="152.1" cy="363.1" r="3.1"/><circle cx="152.9" cy="363.8" r="3.1"/><circle cx="153.7" cy="364.5" r="3.1"/><circle cx="154.5" cy="365.2" r="3.1"/><circle cx="155.3" cy="366.0" r="3.1"/><circle cx="156.1" cy="366.7" r="3.1"/><circle cx="156.9" cy="367.4" r="3.1"/><circle cx="157.7" cy="368.1" r="3.1"/><circle cx="158.5" cy="368.9" r="3.1"/><circle cx="159.3" cy="369.6" r="3.1"/><circle cx="160.1" cy="370.4" r="3.1"/><circle cx="160.9" cy="371.2" r="3.1"/><circle cx="161.7" cy="371.9" r="3.1"/><circle cx="162.5" cy="372.7" r="3.1"/><circle cx="163.3" cy="373.5" r="3.1"/><circle cx="164.1" cy="374.2" r="3.1"/><circle cx="164.9" cy="375.0" r="3.1"/><circle cx="165.7" cy="375.8" r="3.1"/><circle cx="166.5" cy="376.6" r="3.1"/><circle cx="167.3" cy="377.4" r="3.1"/><circle cx="168.1" cy="378.2" r="3.1"/><circle cx="168.9" cy="379.0" r="3.1"/><circle cx="169.7" cy="379.8" r="3.1"/><circle cx="170.5" cy="380.6" r="3.1"/><circle cx="171.3" cy="381.4" r="3.1"/><circle cx="172.1" cy="382.2" r="3.1"/><circle cx="172.9" cy="383.0" r="3.1"/><circle cx="173.7" cy="383.8" r="3.1"/><circle cx="174.5" cy="384.6" r="3.1"/><circle cx="175.3" cy="385.3" r="3.1"/><circle cx="176.1" cy="386.1" r="3.1"/><circle cx="176.9" cy="386.9" r="3.1"/><circle cx="177.7" cy="387.7" r="3.1"/><circle cx="178.5" cy="388.5" r="3.1"/><circle cx="179.3" cy="389.3" r="3.1"/><circle cx="180.1" cy="390.1" r="3.1"/><circle cx="180.9" cy="390.8" r="3.1"/><circle cx="181.7" cy="391.6" r="3.1"/><circle cx="182.5" cy="392.4" r="3.1"/><circle cx="183.3" cy="393.2" r="3.1"/><circle cx="184.1" cy="393.9" r="3.1"/><circle cx="184.9" cy="394.7" r="3.1"/><circle cx="185.7" cy="395.4" r="3.1"/><circle cx="186.5" cy="396.2" r="3.1"/><circle cx="187.3" cy="396.9" r="3.1"/><circle cx="188.1" cy="397.7" r="3.1"/><circle cx="188.9" cy="398.4" r="3.1"/><circle cx="189.7" cy="399.2" r="3.1"/><circle cx="190.5" cy="399.9" r="3.1"/><circle cx="191.3" cy="400.6" r="3.1"/><circle cx="192.1" cy="401.4" r="3.1"/><circle cx="192.9" cy="402.1" r="3.1"/><circle cx="193.7" cy="402.8" r="3.1"/><circle cx="194.5" cy="403.5" r="3.1"/><circle cx="195.3" cy="404.2" r="3.1"/><circle cx="196.1" cy="405.0" r="3.1"/><circle cx="196.9" cy="405.7" r="3.1"/><circle cx="197.7" cy="406.4" r="3.1"/><circle cx="198.5" cy="407.1" r="3.1"/><circle cx="199.3" cy="407.8" r="3.1"/><circle cx="200.1" cy="408.4" r="3.1"/><circle cx="200.9" cy="409.1" r="3.1"/><circle cx="201.7" cy="409.8" r="3.1"/><circle cx="202.5" cy="410.5" r="3.1"/><circle cx="203.3" cy="411.2" r="3.1"/><circle cx="204.1" cy="411.8" r="3.1"/><circle cx="204.9" cy="412.5" r="3.1"/><circle cx="205.7" cy="413.2" r="3.1"/><circle cx="206.5" cy="413.8" r="3.1"/><circle cx="207.3" cy="414.5" r="3.1"/><circle cx="208.1" cy="415.1" r="3.1"/><circle cx="208.9" cy="415.8" r="3.1"/><circle cx="209.7" cy="416.4" r="3.1"/><circle cx="210.5" cy="417.0" r="3.1"/><circle cx="211.3" cy="417.7" r="3.1"/><circle cx="212.1" cy="418.3" r="3.1"/><circle cx="212.9" cy="418.9" r="3.1"/><circle cx="213.7" cy="419.5" r="3.1"/><circle cx="214.5" cy="420.1" r="3.1"/><circle cx="215.3" cy="420.7" r="3.1"/><circle cx="216.1" cy="421.3" r="3.1"/><circle cx="216.9" cy="421.9" r="3.1"/><circle cx="217.7" cy="422.5" r="3.1"/><circle cx="218.5" cy="423.1" r="3.1"/><circle cx="219.3" cy="423.7" r="3.1"/><circle cx="220.1" cy="424.2" r="3.1"/><circle cx="220.9" cy="424.8" r="3.1"/><circle cx="221.7" cy="425.4" r="3.1"/><circle cx="222.5" cy="425.9" r="3.1"/><circle cx="223.3" cy="426.5" r="3.1"/><circle cx="224.1" cy="427.0" r="3.1"/><circle cx="224.9" cy="427.6" r="3.1"/><circle cx="225.7" cy="428.1" r="3.1"/><circle cx="226.5" cy="428.6" r="3.1"/><circle cx="227.3" cy="429.2" r="3.1"/><circle cx="228.1" cy="429.7" r="3.1"/><circle cx="228.9" cy="430.2" r="3.1"/><circle cx="229.7" cy="430.7" r="3.1"/><circle cx="230.5" cy="431.2" r="3.1"/><circle cx="231.3" cy="431.7" r="3.1"/><circle cx="232.1" cy="432.2" r="3.1"/><circle cx="232.9" cy="432.7" r="3.1"/><circle cx="233.7" cy="433.2" r="3.1"/><circle cx="234.5" cy="433.6" r="3.1"/><circle cx="235.3" cy="434.1" r="3.1"/><circle cx="236.1" cy="434.6" r="3.1"/><circle cx="236.9" cy="435.0" r="3.1"/><circle cx="237.7" cy="435.5" r="3.1"/><circle cx="238.5" cy="435.9" r="3.1"/><circle cx="239.3" cy="436.3" r="3.1"/><circle cx="240.1" cy="436.8" r="3.1"/><circle cx="240.9" cy="437.2" r="3.1"/><circle cx="241.7" cy="437.6" r="3.1"/><circle cx="242.5" cy="438.0" r="3.1"/><circle cx="243.3" cy="438.4" r="3.1"/><circle cx="244.1" cy="438.8" r="3.1"/><circle cx="244.9" cy="439.2" r="3.1"/><circle cx="245.7" cy="439.6" r="3.1"/><circle cx="246.5" cy="440.0" r="3.1"/><circle cx="247.3" cy="440.4" r="3.1"/><circle cx="248.1" cy="440.7" r="3.1"/><circle cx="248.9" cy="441.1" r="3.1"/><circle cx="249.7" cy="441.4" r="3.1"/><circle cx="250.5" cy="441.8" r="3.1"/><circle cx="251.3" cy="442.1" r="3.1"/><circle cx="252.1" cy="442.4" r="3.1"/><circle cx="252.9" cy="442.8" r="3.1"/><circle cx="253.7" cy="443.1" r="3.1"/><circle cx="254.5" cy="443.4" r="3.1"/><circle cx="255.3" cy="443.7" r="3.1"/><circle cx="256.1" cy="444.0" r="3.1"/><circle cx="256.9" cy="444.3" r="3.1"/><circle cx="257.7" cy="444.6" r="3.1"/><circle cx="258.5" cy="444.9" r="3.1"/><circle cx="259.3" cy="445.2" r="3.1"/><circle cx="260.1" cy="445.5" r="3.1"/><circle cx="260.9" cy="445.7" r="3.1"/><circle cx="261.7" cy="446.0" r="3.1"/><circle cx="262.5" cy="446.2" r="3.1"/><circle cx="263.3" cy="446.5" r="3.1"/><circle cx="264.1" cy="446.7" r="3.1"/><circle cx="264.9" cy="447.0" r="3.1"/><circle cx="265.7" cy="447.2" r="3.1"/><circle cx="266.5" cy="447.5" r="3.1"/><circle cx="267.3" cy="447.7" r="3.1"/><circle cx="277.2" cy="450.1" r="3.1"/><circle cx="280.2" cy="450.7" r="3.1"/><circle cx="285.4" cy="451.5" r="3.1"/><circle cx="288.4" cy="452.0" r="3.1"/><circle cx="289.2" cy="452.1" r="3.1"/><circle cx="290.0" cy="452.2" r="3.1"/><circle cx="290.8" cy="452.3" r="3.1"/><circle cx="291.6" cy="452.4" r="3.1"/><circle cx="292.4" cy="452.5" r="3.1"/><circle cx="293.2" cy="452.5" r="3.1"/><circle cx="294.0" cy="452.6" r="3.1"/><circle cx="294.8" cy="452.7" r="3.1"/><circle cx="295.6" cy="452.8" r="3.1"/><circle cx="296.4" cy="452.9" r="3.1"/><circle cx="297.2" cy="452.9" r="3.1"/><circle cx="300.0" cy="453.2" r="3.1"/><circle cx="302.8" cy="453.4" r="3.1"/><circle cx="305.7" cy="453.5" r="3.1"/><circle cx="308.4" cy="453.7" r="3.1"/><circle cx="309.2" cy="453.7" r="3.1"/><circle cx="310.0" cy="453.7" r="3.1"/><circle cx="310.8" cy="453.8" r="3.1"/><circle cx="311.6" cy="453.8" r="3.1"/><circle cx="312.4" cy="453.8" r="3.1"/><circle cx="313.2" cy="453.8" r="3.1"/><circle cx="314.0" cy="453.8" r="3.1"/><circle cx="314.8" cy="453.9" r="3.1"/><circle cx="315.6" cy="453.9" r="3.1"/><circle cx="316.4" cy="453.9" r="3.1"/><circle cx="317.2" cy="453.9" r="3.1"/><circle cx="318.0" cy="453.9" r="3.1"/><circle cx="318.8" cy="453.9" r="3.1"/><circle cx="319.6" cy="453.9" r="3.1"/><circle cx="320.4" cy="453.9" r="3.1"/><circle cx="321.2" cy="453.9" r="3.1"/><circle cx="322.0" cy="454.0" r="3.1"/><circle cx="324.7" cy="454.0" r="3.1"/><circle cx="329.7" cy="453.9" r="3.1"/><circle cx="332.4" cy="453.9" r="3.1"/><circle cx="335.5" cy="453.9" r="3.1"/><circle cx="338.8" cy="453.8" r="3.1"/><circle cx="339.6" cy="453.8" r="3.1"/><circle cx="340.4" cy="453.8" r="3.1"/><circle cx="341.2" cy="453.8" r="3.1"/><circle cx="342.0" cy="453.8" r="3.1"/><circle cx="345.2" cy="453.7" r="3.1"/><circle cx="348.3" cy="453.7" r="3.1"/><circle cx="356.0" cy="453.6" r="3.1"/><circle cx="358.5" cy="453.6" r="3.1"/><circle cx="363.4" cy="453.7" r="3.1"/><circle cx="369.3" cy="453.8" r="3.1"/><circle cx="371.2" cy="453.9" r="3.1"/><circle cx="372.8" cy="453.9" r="3.1"/><circle cx="374.7" cy="454.0" r="3.1"/><circle cx="376.5" cy="454.1" r="3.1"/><circle cx="379.2" cy="454.2" r="3.1"/><circle cx="381.2" cy="454.3" r="3.1"/><circle cx="388.8" cy="454.8" r="3.1"/><circle cx="391.8" cy="455.1" r="3.1"/><circle cx="394.2" cy="455.3" r="3.1"/><circle cx="396.5" cy="455.5" r="3.1"/><circle cx="398.2" cy="455.7" r="3.1"/><circle cx="399.9" cy="455.9" r="3.1"/><circle cx="410.5" cy="457.3" r="3.1"/><circle cx="416.0" cy="458.1" r="3.1"/><circle cx="418.2" cy="458.5" r="3.1"/><circle cx="420.5" cy="458.8" r="3.1"/><circle cx="433.2" cy="461.3" r="3.1"/><circle cx="439.0" cy="462.5" r="3.1"/><circle cx="444.8" cy="463.9" r="3.1"/><circle cx="454.7" cy="466.4" r="3.1"/><circle cx="459.2" cy="467.6" r="3.1"/><circle cx="472.4" cy="471.4" r="3.1"/><circle cx="477.5" cy="472.9" r="3.1"/><circle cx="482.0" cy="474.3" r="3.1"/><circle cx="503.4" cy="481.3" r="3.1"/><circle cx="518.9" cy="486.4" r="3.1"/><circle cx="522.0" cy="487.4" r="3.1"/><circle cx="551.9" cy="496.7" r="3.1"/><circle cx="590.4" cy="506.3" r="3.1"/><circle cx="631.7" cy="513.8" r="3.1"/><circle cx="666.2" cy="518.1" r="3.1"/><circle cx="696.5" cy="520.8" r="3.1"/><circle cx="697.6" cy="520.9" r="3.1"/><circle cx="953.3" cy="96.3" r="3.1"/><circle cx="953.3" cy="549.5" r="3.1"/></g>
<g fill="#ff0000"><circle cx="1135.0" cy="370.7" r="2.65"/><circle cx="1137.3" cy="372.5" r="2.65"/><circle cx="1139.6" cy="374.4" r="2.65"/><circle cx="1140.8" cy="375.3" r="2.65"/><circle cx="1141.6" cy="376.0" r="2.65"/><circle cx="1142.4" cy="376.6" r="2.65"/><circle cx="1143.2" cy="377.3" r="2.65"/><circle cx="1144.0" cy="377.9" r="2.65"/><circle cx="1144.8" cy="378.6" r="2.65"/><circle cx="1145.6" cy="379.2" r="2.65"/><circle cx="1146.4" cy="379.9" r="2.65"/><circle cx="1147.2" cy="380.5" r="2.65"/><circle cx="1148.0" cy="381.2" r="2.65"/><circle cx="1148.8" cy="381.8" r="2.65"/><circle cx="1149.6" cy="382.4" r="2.65"/><circle cx="1150.4" cy="383.1" r="2.65"/><circle cx="1151.2" cy="383.7" r="2.65"/><circle cx="1152.0" cy="384.4" r="2.65"/><circle cx="1152.8" cy="385.0" r="2.65"/><circle cx="1153.6" cy="385.6" r="2.65"/><circle cx="1154.4" cy="386.3" r="2.65"/><circle cx="1155.2" cy="386.9" r="2.65"/><circle cx="1156.0" cy="387.6" r="2.65"/><circle cx="1156.8" cy="388.2" r="2.65"/><circle cx="1157.6" cy="388.8" r="2.65"/><circle cx="1158.4" cy="389.5" r="2.65"/><circle cx="1159.2" cy="390.1" r="2.65"/><circle cx="1160.0" cy="390.7" r="2.65"/><circle cx="1160.8" cy="391.4" r="2.65"/><circle cx="1161.6" cy="392.0" r="2.65"/><circle cx="1162.4" cy="392.6" r="2.65"/><circle cx="1163.2" cy="393.2" r="2.65"/><circle cx="1164.0" cy="393.9" r="2.65"/><circle cx="1164.8" cy="394.5" r="2.65"/><circle cx="1165.6" cy="395.1" r="2.65"/><circle cx="1166.4" cy="395.7" r="2.65"/><circle cx="1167.2" cy="396.4" r="2.65"/><circle cx="1168.0" cy="397.0" r="2.65"/><circle cx="1168.8" cy="397.6" r="2.65"/><circle cx="1169.6" cy="398.2" r="2.65"/><circle cx="1170.4" cy="398.8" r="2.65"/><circle cx="1171.2" cy="399.4" r="2.65"/><circle cx="1172.0" cy="400.0" r="2.65"/><circle cx="1172.8" cy="400.6" r="2.65"/><circle cx="1173.6" cy="401.2" r="2.65"/><circle cx="1174.4" cy="401.8" r="2.65"/><circle cx="1175.2" cy="402.4" r="2.65"/><circle cx="1176.0" cy="403.0" r="2.65"/><circle cx="1176.8" cy="403.6" r="2.65"/><circle cx="1177.6" cy="404.2" r="2.65"/><circle cx="1178.4" cy="404.8" r="2.65"/><circle cx="1179.2" cy="405.4" r="2.65"/><circle cx="1180.0" cy="406.0" r="2.65"/><circle cx="1180.8" cy="406.6" r="2.65"/><circle cx="1181.6" cy="407.2" r="2.65"/><circle cx="1182.4" cy="407.8" r="2.65"/><circle cx="1183.2" cy="408.3" r="2.65"/><circle cx="1184.0" cy="408.9" r="2.65"/><circle cx="1184.8" cy="409.5" r="2.65"/><circle cx="1185.6" cy="410.1" r="2.65"/><circle cx="1186.4" cy="410.6" r="2.65"/><circle cx="1187.2" cy="411.2" r="2.65"/><circle cx="1188.0" cy="411.8" r="2.65"/><circle cx="1188.8" cy="412.3" r="2.65"/><circle cx="1189.6" cy="412.9" r="2.65"/><circle cx="1190.4" cy="413.4" r="2.65"/><circle cx="1191.2" cy="414.0" r="2.65"/><circle cx="1192.0" cy="414.5" r="2.65"/><circle cx="1192.8" cy="415.1" r="2.65"/><circle cx="1193.6" cy="415.6" r="2.65"/><circle cx="1194.4" cy="416.2" r="2.65"/><circle cx="1195.2" cy="416.7" r="2.65"/><circle cx="1196.0" cy="417.2" r="2.65"/><circle cx="1196.8" cy="417.8" r="2.65"/><circle cx="1197.6" cy="418.3" r="2.65"/><circle cx="1198.4" cy="418.8" r="2.65"/><circle cx="1199.2" cy="419.3" r="2.65"/><circle cx="1200.0" cy="419.8" r="2.65"/><circle cx="1200.8" cy="420.4" r="2.65"/><circle cx="1201.6" cy="420.9" r="2.65"/><circle cx="1202.4" cy="421.4" r="2.65"/><circle cx="1203.2" cy="421.9" r="2.65"/><circle cx="1204.0" cy="422.4" r="2.65"/><circle cx="1204.8" cy="422.9" r="2.65"/><circle cx="1205.6" cy="423.4" r="2.65"/><circle cx="1206.4" cy="423.9" r="2.65"/><circle cx="1207.2" cy="424.3" r="2.65"/><circle cx="1208.0" cy="424.8" r="2.65"/><circle cx="1208.8" cy="425.3" r="2.65"/><circle cx="1209.6" cy="425.8" r="2.65"/><circle cx="1210.4" cy="426.2" r="2.65"/><circle cx="1211.3" cy="426.7" r="2.65"/><circle cx="1212.1" cy="427.2" r="2.65"/><circle cx="1212.9" cy="427.6" r="2.65"/><circle cx="1213.7" cy="428.1" r="2.65"/><circle cx="1214.5" cy="428.5" r="2.65"/><circle cx="1215.3" cy="429.0" r="2.65"/><circle cx="1216.1" cy="429.4" r="2.65"/><circle cx="1216.9" cy="429.9" r="2.65"/><circle cx="1217.7" cy="430.3" r="2.65"/><circle cx="1218.5" cy="430.7" r="2.65"/><circle cx="1219.3" cy="431.2" r="2.65"/><circle cx="1220.1" cy="431.6" r="2.65"/><circle cx="1220.9" cy="432.0" r="2.65"/><circle cx="1221.7" cy="432.4" r="2.65"/><circle cx="1222.5" cy="432.8" r="2.65"/><circle cx="1223.3" cy="433.2" r="2.65"/><circle cx="1224.1" cy="433.6" r="2.65"/><circle cx="1224.9" cy="434.0" r="2.65"/><circle cx="1225.7" cy="434.4" r="2.65"/><circle cx="1226.5" cy="434.8" r="2.65"/><circle cx="1227.3" cy="435.2" r="2.65"/><circle cx="1228.1" cy="435.6" r="2.65"/><circle cx="1228.9" cy="436.0" r="2.65"/><circle cx="1229.7" cy="436.4" r="2.65"/><circle cx="1230.5" cy="436.8" r="2.65"/><circle cx="1231.3" cy="437.1" r="2.65"/><circle cx="1232.1" cy="437.5" r="2.65"/><circle cx="1232.9" cy="437.9" r="2.65"/><circle cx="1233.7" cy="438.3" r="2.65"/><circle cx="1234.5" cy="438.6" r="2.65"/><circle cx="1235.3" cy="439.0" r="2.65"/><circle cx="1236.1" cy="439.3" r="2.65"/><circle cx="1236.9" cy="439.7" r="2.65"/><circle cx="1237.7" cy="440.0" r="2.65"/><circle cx="1238.5" cy="440.4" r="2.65"/><circle cx="1239.3" cy="440.7" r="2.65"/><circle cx="1240.1" cy="441.1" r="2.65"/><circle cx="1240.9" cy="441.4" r="2.65"/><circle cx="1241.7" cy="441.7" r="2.65"/><circle cx="1242.5" cy="442.1" r="2.65"/><circle cx="1243.3" cy="442.4" r="2.65"/><circle cx="1244.1" cy="442.7" r="2.65"/><circle cx="1244.9" cy="443.0" r="2.65"/><circle cx="1245.7" cy="443.4" r="2.65"/><circle cx="1246.5" cy="443.7" r="2.65"/><circle cx="1247.3" cy="444.0" r="2.65"/><circle cx="1248.1" cy="444.3" r="2.65"/><circle cx="1248.9" cy="444.6" r="2.65"/><circle cx="1249.7" cy="444.9" r="2.65"/><circle cx="1250.5" cy="445.2" r="2.65"/><circle cx="1251.3" cy="445.5" r="2.65"/><circle cx="1252.1" cy="445.8" r="2.65"/><circle cx="1252.9" cy="446.1" r="2.65"/><circle cx="1253.7" cy="446.4" r="2.65"/><circle cx="1254.5" cy="446.7" r="2.65"/><circle cx="1255.3" cy="447.0" r="2.65"/><circle cx="1256.1" cy="447.2" r="2.65"/><circle cx="1256.9" cy="447.5" r="2.65"/><circle cx="1257.7" cy="447.8" r="2.65"/><circle cx="1258.5" cy="448.1" r="2.65"/><circle cx="1259.3" cy="448.4" r="2.65"/><circle cx="1260.1" cy="448.6" r="2.65"/><circle cx="1260.9" cy="448.9" r="2.65"/><circle cx="1261.7" cy="449.2" r="2.65"/><circle cx="1262.5" cy="449.4" r="2.65"/><circle cx="1263.3" cy="449.7" r="2.65"/><circle cx="1264.1" cy="449.9" r="2.65"/><circle cx="1264.9" cy="450.2" r="2.65"/><circle cx="1265.7" cy="450.4" r="2.65"/><circle cx="1266.5" cy="450.7" r="2.65"/><circle cx="1267.3" cy="450.9" r="2.65"/><circle cx="1268.1" cy="451.2" r="2.65"/><circle cx="1268.9" cy="451.4" r="2.65"/><circle cx="1269.7" cy="451.7" r="2.65"/><circle cx="1270.5" cy="451.9" r="2.65"/><circle cx="1271.3" cy="452.1" r="2.65"/><circle cx="1272.1" cy="452.4" r="2.65"/><circle cx="1272.9" cy="452.6" r="2.65"/><circle cx="1273.7" cy="452.8" r="2.65"/><circle cx="1274.5" cy="453.1" r="2.65"/><circle cx="1275.3" cy="453.3" r="2.65"/><circle cx="1276.1" cy="453.5" r="2.65"/><circle cx="1276.9" cy="453.7" r="2.65"/><circle cx="1277.7" cy="454.0" r="2.65"/><circle cx="1278.5" cy="454.2" r="2.65"/><circle cx="1279.3" cy="454.4" r="2.65"/><circle cx="1280.1" cy="454.6" r="2.65"/><circle cx="1280.9" cy="454.8" r="2.65"/><circle cx="1281.7" cy="455.0" r="2.65"/><circle cx="1282.5" cy="455.2" r="2.65"/><circle cx="1292.4" cy="457.7" r="2.65"/><circle cx="1295.4" cy="458.4" r="2.65"/><circle cx="1300.6" cy="459.5" r="2.65"/><circle cx="1303.6" cy="460.1" r="2.65"/><circle cx="1304.4" cy="460.3" r="2.65"/><circle cx="1305.2" cy="460.4" r="2.65"/><circle cx="1306.0" cy="460.6" r="2.65"/><circle cx="1306.8" cy="460.8" r="2.65"/><circle cx="1307.6" cy="460.9" r="2.65"/><circle cx="1308.4" cy="461.1" r="2.65"/><circle cx="1309.2" cy="461.2" r="2.65"/><circle cx="1310.0" cy="461.4" r="2.65"/><circle cx="1310.8" cy="461.6" r="2.65"/><circle cx="1311.6" cy="461.7" r="2.65"/><circle cx="1312.4" cy="461.9" r="2.65"/><circle cx="1315.2" cy="462.4" r="2.65"/><circle cx="1318.0" cy="462.9" r="2.65"/><circle cx="1320.9" cy="463.4" r="2.65"/><circle cx="1323.6" cy="463.9" r="2.65"/><circle cx="1324.4" cy="464.0" r="2.65"/><circle cx="1325.2" cy="464.2" r="2.65"/><circle cx="1326.0" cy="464.3" r="2.65"/><circle cx="1326.8" cy="464.4" r="2.65"/><circle cx="1327.6" cy="464.6" r="2.65"/><circle cx="1328.4" cy="464.7" r="2.65"/><circle cx="1329.2" cy="464.8" r="2.65"/><circle cx="1330.0" cy="465.0" r="2.65"/><circle cx="1330.8" cy="465.1" r="2.65"/><circle cx="1331.6" cy="465.2" r="2.65"/><circle cx="1332.4" cy="465.4" r="2.65"/><circle cx="1333.2" cy="465.5" r="2.65"/><circle cx="1334.0" cy="465.6" r="2.65"/><circle cx="1334.8" cy="465.7" r="2.65"/><circle cx="1335.6" cy="465.9" r="2.65"/><circle cx="1336.4" cy="466.0" r="2.65"/><circle cx="1337.2" cy="466.1" r="2.65"/><circle cx="1339.9" cy="466.5" r="2.65"/><circle cx="1344.9" cy="467.3" r="2.65"/><circle cx="1347.6" cy="467.6" r="2.65"/><circle cx="1350.7" cy="468.1" r="2.65"/><circle cx="1354.0" cy="468.5" r="2.65"/><circle cx="1354.8" cy="468.6" r="2.65"/><circle cx="1355.6" cy="468.7" r="2.65"/><circle cx="1356.4" cy="468.8" r="2.65"/><circle cx="1357.2" cy="468.9" r="2.65"/><circle cx="1360.4" cy="469.3" r="2.65"/><circle cx="1363.5" cy="469.7" r="2.65"/><circle cx="1371.2" cy="470.6" r="2.65"/><circle cx="1373.7" cy="470.9" r="2.65"/><circle cx="1378.6" cy="471.4" r="2.65"/><circle cx="1384.5" cy="472.1" r="2.65"/><circle cx="1386.4" cy="472.3" r="2.65"/><circle cx="1388.0" cy="472.4" r="2.65"/><circle cx="1389.9" cy="472.6" r="2.65"/><circle cx="1391.8" cy="472.8" r="2.65"/><circle cx="1394.5" cy="473.1" r="2.65"/><circle cx="1396.5" cy="473.2" r="2.65"/><circle cx="1404.1" cy="473.9" r="2.65"/><circle cx="1407.1" cy="474.2" r="2.65"/><circle cx="1409.5" cy="474.4" r="2.65"/><circle cx="1411.8" cy="474.6" r="2.65"/><circle cx="1413.5" cy="474.8" r="2.65"/><circle cx="1415.2" cy="474.9" r="2.65"/><circle cx="1425.8" cy="475.8" r="2.65"/><circle cx="1431.3" cy="476.3" r="2.65"/><circle cx="1433.5" cy="476.4" r="2.65"/><circle cx="1435.8" cy="476.6" r="2.65"/><circle cx="1448.5" cy="477.6" r="2.65"/><circle cx="1454.3" cy="478.1" r="2.65"/><circle cx="1460.1" cy="478.5" r="2.65"/><circle cx="1470.0" cy="479.3" r="2.65"/><circle cx="1474.5" cy="479.7" r="2.65"/><circle cx="1487.7" cy="480.8" r="2.65"/><circle cx="1492.8" cy="481.3" r="2.65"/><circle cx="1497.3" cy="481.6" r="2.65"/><circle cx="1518.7" cy="483.3" r="2.65"/><circle cx="1534.2" cy="484.4" r="2.65"/><circle cx="1537.3" cy="484.6" r="2.65"/><circle cx="1567.2" cy="485.9" r="2.65"/><circle cx="1605.8" cy="485.3" r="2.65"/><circle cx="1647.1" cy="480.7" r="2.65"/><circle cx="1681.6" cy="472.8" r="2.65"/><circle cx="1711.9" cy="462.0" r="2.65"/><circle cx="1713.0" cy="461.5" r="2.65"/><circle cx="1968" cy="281.6" r="2.65"/></g>
<g fill="none" stroke="#0000ff" stroke-width="1.25"><circle cx="1135.7" cy="350.5" r="3.1"/><circle cx="1138.0" cy="353.0" r="3.1"/><circle cx="1140.3" cy="355.6" r="3.1"/><circle cx="1141.5" cy="356.9" r="3.1"/><circle cx="1142.3" cy="357.8" r="3.1"/><circle cx="1143.1" cy="358.8" r="3.1"/><circle cx="1143.9" cy="359.7" r="3.1"/><circle cx="1144.7" cy="360.6" r="3.1"/><circle cx="1145.5" cy="361.5" r="3.1"/><circle cx="1146.3" cy="362.4" r="3.1"/><circle cx="1147.1" cy="363.4" r="3.1"/><circle cx="1147.9" cy="364.3" r="3.1"/><circle cx="1148.7" cy="365.2" r="3.1"/><circle cx="1149.5" cy="366.2" r="3.1"/><circle cx="1150.3" cy="367.1" r="3.1"/><circle cx="1151.1" cy="368.0" r="3.1"/><circle cx="1151.9" cy="368.9" r="3.1"/><circle cx="1152.7" cy="369.9" r="3.1"/><circle cx="1153.5" cy="370.8" r="3.1"/><circle cx="1154.3" cy="371.7" r="3.1"/><circle cx="1155.1" cy="372.6" r="3.1"/><circle cx="1155.9" cy="373.6" r="3.1"/><circle cx="1156.7" cy="374.5" r="3.1"/><circle cx="1157.5" cy="375.4" r="3.1"/><circle cx="1158.3" cy="376.3" r="3.1"/><circle cx="1159.1" cy="377.2" r="3.1"/><circle cx="1159.9" cy="378.1" r="3.1"/><circle cx="1160.7" cy="379.0" r="3.1"/><circle cx="1161.5" cy="379.9" r="3.1"/><circle cx="1162.3" cy="380.8" r="3.1"/><circle cx="1163.1" cy="381.6" r="3.1"/><circle cx="1163.9" cy="382.5" r="3.1"/><circle cx="1164.7" cy="383.4" r="3.1"/><circle cx="1165.5" cy="384.2" r="3.1"/><circle cx="1166.3" cy="385.1" r="3.1"/><circle cx="1167.1" cy="385.9" r="3.1"/><circle cx="1167.9" cy="386.8" r="3.1"/><circle cx="1168.7" cy="387.6" r="3.1"/><circle cx="1169.5" cy="388.4" r="3.1"/><circle cx="1170.3" cy="389.2" r="3.1"/><circle cx="1171.1" cy="390.0" r="3.1"/><circle cx="1171.9" cy="390.8" r="3.1"/><circle cx="1172.7" cy="391.6" r="3.1"/><circle cx="1173.5" cy="392.4" r="3.1"/><circle cx="1174.3" cy="393.2" r="3.1"/><circle cx="1175.1" cy="393.9" r="3.1"/><circle cx="1175.9" cy="394.7" r="3.1"/><circle cx="1176.7" cy="395.4" r="3.1"/><circle cx="1177.5" cy="396.1" r="3.1"/><circle cx="1178.3" cy="396.8" r="3.1"/><circle cx="1179.1" cy="397.5" r="3.1"/><circle cx="1179.9" cy="398.2" r="3.1"/><circle cx="1180.7" cy="398.9" r="3.1"/><circle cx="1181.5" cy="399.6" r="3.1"/><circle cx="1182.3" cy="400.3" r="3.1"/><circle cx="1183.1" cy="400.9" r="3.1"/><circle cx="1183.9" cy="401.6" r="3.1"/><circle cx="1184.7" cy="402.2" r="3.1"/><circle cx="1185.5" cy="402.8" r="3.1"/><circle cx="1186.3" cy="403.5" r="3.1"/><circle cx="1187.1" cy="404.1" r="3.1"/><circle cx="1187.9" cy="404.7" r="3.1"/><circle cx="1188.7" cy="405.3" r="3.1"/><circle cx="1189.5" cy="405.8" r="3.1"/><circle cx="1190.3" cy="406.4" r="3.1"/><circle cx="1191.1" cy="407.0" r="3.1"/><circle cx="1191.9" cy="407.5" r="3.1"/><circle cx="1192.7" cy="408.1" r="3.1"/><circle cx="1193.5" cy="408.6" r="3.1"/><circle cx="1194.3" cy="409.2" r="3.1"/><circle cx="1195.1" cy="409.7" r="3.1"/><circle cx="1195.9" cy="410.2" r="3.1"/><circle cx="1196.7" cy="410.8" r="3.1"/><circle cx="1197.5" cy="411.3" r="3.1"/><circle cx="1198.3" cy="411.8" r="3.1"/><circle cx="1199.1" cy="412.3" r="3.1"/><circle cx="1199.9" cy="412.7" r="3.1"/><circle cx="1200.7" cy="413.2" r="3.1"/><circle cx="1201.5" cy="413.7" r="3.1"/><circle cx="1202.3" cy="414.2" r="3.1"/><circle cx="1203.1" cy="414.6" r="3.1"/><circle cx="1203.9" cy="415.1" r="3.1"/><circle cx="1204.7" cy="415.6" r="3.1"/><circle cx="1205.5" cy="416.0" r="3.1"/><circle cx="1206.3" cy="416.5" r="3.1"/><circle cx="1207.1" cy="416.9" r="3.1"/><circle cx="1207.9" cy="417.3" r="3.1"/><circle cx="1208.7" cy="417.8" r="3.1"/><circle cx="1209.5" cy="418.2" r="3.1"/><circle cx="1210.3" cy="418.6" r="3.1"/><circle cx="1211.1" cy="419.0" r="3.1"/><circle cx="1212.0" cy="419.4" r="3.1"/><circle cx="1212.8" cy="419.8" r="3.1"/><circle cx="1213.6" cy="420.2" r="3.1"/><circle cx="1214.4" cy="420.6" r="3.1"/><circle cx="1215.2" cy="421.0" r="3.1"/><circle cx="1216.0" cy="421.4" r="3.1"/><circle cx="1216.8" cy="421.8" r="3.1"/><circle cx="1217.6" cy="422.2" r="3.1"/><circle cx="1218.4" cy="422.6" r="3.1"/><circle cx="1219.2" cy="422.9" r="3.1"/><circle cx="1220.0" cy="423.3" r="3.1"/><circle cx="1220.8" cy="423.7" r="3.1"/><circle cx="1221.6" cy="424.0" r="3.1"/><circle cx="1222.4" cy="424.4" r="3.1"/><circle cx="1223.2" cy="424.8" r="3.1"/><circle cx="1224.0" cy="425.1" r="3.1"/><circle cx="1224.8" cy="425.5" r="3.1"/><circle cx="1225.6" cy="425.8" r="3.1"/><circle cx="1226.4" cy="426.1" r="3.1"/><circle cx="1227.2" cy="426.5" r="3.1"/><circle cx="1228.0" cy="426.8" r="3.1"/><circle cx="1228.8" cy="427.1" r="3.1"/><circle cx="1229.6" cy="427.5" r="3.1"/><circle cx="1230.4" cy="427.8" r="3.1"/><circle cx="1231.2" cy="428.1" r="3.1"/><circle cx="1232.0" cy="428.4" r="3.1"/><circle cx="1232.8" cy="428.7" r="3.1"/><circle cx="1233.6" cy="429.0" r="3.1"/><circle cx="1234.4" cy="429.3" r="3.1"/><circle cx="1235.2" cy="429.6" r="3.1"/><circle cx="1236.0" cy="429.9" r="3.1"/><circle cx="1236.8" cy="430.2" r="3.1"/><circle cx="1237.6" cy="430.5" r="3.1"/><circle cx="1238.4" cy="430.8" r="3.1"/><circle cx="1239.2" cy="431.1" r="3.1"/><circle cx="1240.0" cy="431.3" r="3.1"/><circle cx="1240.8" cy="431.6" r="3.1"/><circle cx="1241.6" cy="431.9" r="3.1"/><circle cx="1242.4" cy="432.1" r="3.1"/><circle cx="1243.2" cy="432.4" r="3.1"/><circle cx="1244.0" cy="432.7" r="3.1"/><circle cx="1244.8" cy="432.9" r="3.1"/><circle cx="1245.6" cy="433.2" r="3.1"/><circle cx="1246.4" cy="433.4" r="3.1"/><circle cx="1247.2" cy="433.7" r="3.1"/><circle cx="1248.0" cy="433.9" r="3.1"/><circle cx="1248.8" cy="434.2" r="3.1"/><circle cx="1249.6" cy="434.4" r="3.1"/><circle cx="1250.4" cy="434.6" r="3.1"/><circle cx="1251.2" cy="434.9" r="3.1"/><circle cx="1252.0" cy="435.1" r="3.1"/><circle cx="1252.8" cy="435.3" r="3.1"/><circle cx="1253.6" cy="435.6" r="3.1"/><circle cx="1254.4" cy="435.8" r="3.1"/><circle cx="1255.2" cy="436.0" r="3.1"/><circle cx="1256.0" cy="436.2" r="3.1"/><circle cx="1256.8" cy="436.4" r="3.1"/><circle cx="1257.6" cy="436.6" r="3.1"/><circle cx="1258.4" cy="436.8" r="3.1"/><circle cx="1259.2" cy="437.0" r="3.1"/><circle cx="1260.0" cy="437.2" r="3.1"/><circle cx="1260.8" cy="437.4" r="3.1"/><circle cx="1261.6" cy="437.6" r="3.1"/><circle cx="1262.4" cy="437.8" r="3.1"/><circle cx="1263.2" cy="438.0" r="3.1"/><circle cx="1264.0" cy="438.2" r="3.1"/><circle cx="1264.8" cy="438.4" r="3.1"/><circle cx="1265.6" cy="438.6" r="3.1"/><circle cx="1266.4" cy="438.7" r="3.1"/><circle cx="1267.2" cy="438.9" r="3.1"/><circle cx="1268.0" cy="439.1" r="3.1"/><circle cx="1268.8" cy="439.3" r="3.1"/><circle cx="1269.6" cy="439.4" r="3.1"/><circle cx="1270.4" cy="439.6" r="3.1"/><circle cx="1271.2" cy="439.8" r="3.1"/><circle cx="1272.0" cy="439.9" r="3.1"/><circle cx="1272.8" cy="440.1" r="3.1"/><circle cx="1273.6" cy="440.2" r="3.1"/><circle cx="1274.4" cy="440.4" r="3.1"/><circle cx="1275.2" cy="440.5" r="3.1"/><circle cx="1276.0" cy="440.7" r="3.1"/><circle cx="1276.8" cy="440.8" r="3.1"/><circle cx="1277.6" cy="441.0" r="3.1"/><circle cx="1278.4" cy="441.1" r="3.1"/><circle cx="1279.2" cy="441.3" r="3.1"/><circle cx="1280.0" cy="441.4" r="3.1"/><circle cx="1280.8" cy="441.5" r="3.1"/><circle cx="1281.6" cy="441.7" r="3.1"/><circle cx="1282.4" cy="441.8" r="3.1"/><circle cx="1283.2" cy="441.9" r="3.1"/><circle cx="1293.1" cy="443.4" r="3.1"/><circle cx="1296.1" cy="443.8" r="3.1"/><circle cx="1301.3" cy="444.4" r="3.1"/><circle cx="1304.3" cy="444.7" r="3.1"/><circle cx="1305.1" cy="444.8" r="3.1"/><circle cx="1305.9" cy="444.8" r="3.1"/><circle cx="1306.7" cy="444.9" r="3.1"/><circle cx="1307.5" cy="445.0" r="3.1"/><circle cx="1308.3" cy="445.1" r="3.1"/><circle cx="1309.1" cy="445.2" r="3.1"/><circle cx="1309.9" cy="445.2" r="3.1"/><circle cx="1310.7" cy="445.3" r="3.1"/><circle cx="1311.5" cy="445.4" r="3.1"/><circle cx="1312.3" cy="445.4" r="3.1"/><circle cx="1313.1" cy="445.5" r="3.1"/><circle cx="1315.9" cy="445.7" r="3.1"/><circle cx="1318.7" cy="446.0" r="3.1"/><circle cx="1321.6" cy="446.2" r="3.1"/><circle cx="1324.3" cy="446.4" r="3.1"/><circle cx="1325.1" cy="446.4" r="3.1"/><circle cx="1325.9" cy="446.5" r="3.1"/><circle cx="1326.7" cy="446.5" r="3.1"/><circle cx="1327.5" cy="446.6" r="3.1"/><circle cx="1328.3" cy="446.6" r="3.1"/><circle cx="1329.1" cy="446.7" r="3.1"/><circle cx="1329.9" cy="446.7" r="3.1"/><circle cx="1330.7" cy="446.8" r="3.1"/><circle cx="1331.5" cy="446.8" r="3.1"/><circle cx="1332.3" cy="446.8" r="3.1"/><circle cx="1333.1" cy="446.9" r="3.1"/><circle cx="1333.9" cy="446.9" r="3.1"/><circle cx="1334.7" cy="447.0" r="3.1"/><circle cx="1335.5" cy="447.0" r="3.1"/><circle cx="1336.3" cy="447.0" r="3.1"/><circle cx="1337.1" cy="447.1" r="3.1"/><circle cx="1337.9" cy="447.1" r="3.1"/><circle cx="1340.6" cy="447.2" r="3.1"/><circle cx="1345.6" cy="447.4" r="3.1"/><circle cx="1348.3" cy="447.5" r="3.1"/><circle cx="1351.4" cy="447.6" r="3.1"/><circle cx="1354.7" cy="447.6" r="3.1"/><circle cx="1355.5" cy="447.7" r="3.1"/><circle cx="1356.3" cy="447.7" r="3.1"/><circle cx="1357.1" cy="447.7" r="3.1"/><circle cx="1357.9" cy="447.7" r="3.1"/><circle cx="1361.1" cy="447.7" r="3.1"/><circle cx="1364.2" cy="447.8" r="3.1"/><circle cx="1371.9" cy="447.8" r="3.1"/><circle cx="1374.4" cy="447.8" r="3.1"/><circle cx="1379.3" cy="447.7" r="3.1"/><circle cx="1385.2" cy="447.6" r="3.1"/><circle cx="1387.1" cy="447.6" r="3.1"/><circle cx="1388.7" cy="447.6" r="3.1"/><circle cx="1390.6" cy="447.5" r="3.1"/><circle cx="1392.5" cy="447.5" r="3.1"/><circle cx="1395.2" cy="447.4" r="3.1"/><circle cx="1397.2" cy="447.4" r="3.1"/><circle cx="1404.8" cy="447.1" r="3.1"/><circle cx="1407.8" cy="447.0" r="3.1"/><circle cx="1410.2" cy="446.9" r="3.1"/><circle cx="1412.5" cy="446.8" r="3.1"/><circle cx="1414.2" cy="446.7" r="3.1"/><circle cx="1415.9" cy="446.7" r="3.1"/><circle cx="1426.5" cy="446.2" r="3.1"/><circle cx="1432.0" cy="445.9" r="3.1"/><circle cx="1434.2" cy="445.7" r="3.1"/><circle cx="1436.5" cy="445.6" r="3.1"/><circle cx="1449.2" cy="444.8" r="3.1"/><circle cx="1455.0" cy="444.5" r="3.1"/><circle cx="1460.8" cy="444.1" r="3.1"/><circle cx="1470.7" cy="443.4" r="3.1"/><circle cx="1475.2" cy="443.1" r="3.1"/><circle cx="1488.4" cy="442.2" r="3.1"/><circle cx="1493.5" cy="441.8" r="3.1"/><circle cx="1498.0" cy="441.4" r="3.1"/><circle cx="1519.4" cy="439.6" r="3.1"/><circle cx="1534.9" cy="438.0" r="3.1"/><circle cx="1538.0" cy="437.7" r="3.1"/><circle cx="1567.9" cy="433.6" r="3.1"/><circle cx="1606.5" cy="425.8" r="3.1"/><circle cx="1647.8" cy="413.3" r="3.1"/><circle cx="1682.3" cy="398.6" r="3.1"/><circle cx="1712.6" cy="381.9" r="3.1"/><circle cx="1713.7" cy="381.3" r="3.1"/><circle cx="1135.7" cy="389.5" r="3.1"/><circle cx="1138.0" cy="389.9" r="3.1"/><circle cx="1140.3" cy="390.5" r="3.1"/><circle cx="1141.5" cy="390.8" r="3.1"/><circle cx="1142.3" cy="391.1" r="3.1"/><circle cx="1143.1" cy="391.3" r="3.1"/><circle cx="1143.9" cy="391.6" r="3.1"/><circle cx="1144.7" cy="391.9" r="3.1"/><circle cx="1145.5" cy="392.2" r="3.1"/><circle cx="1146.3" cy="392.5" r="3.1"/><circle cx="1147.1" cy="392.8" r="3.1"/><circle cx="1147.9" cy="393.1" r="3.1"/><circle cx="1148.7" cy="393.5" r="3.1"/><circle cx="1149.5" cy="393.8" r="3.1"/><circle cx="1150.3" cy="394.2" r="3.1"/><circle cx="1151.1" cy="394.6" r="3.1"/><circle cx="1151.9" cy="394.9" r="3.1"/><circle cx="1152.7" cy="395.3" r="3.1"/><circle cx="1153.5" cy="395.7" r="3.1"/><circle cx="1154.3" cy="396.2" r="3.1"/><circle cx="1155.1" cy="396.6" r="3.1"/><circle cx="1155.9" cy="397.0" r="3.1"/><circle cx="1156.7" cy="397.5" r="3.1"/><circle cx="1157.5" cy="397.9" r="3.1"/><circle cx="1158.3" cy="398.4" r="3.1"/><circle cx="1159.1" cy="398.9" r="3.1"/><circle cx="1159.9" cy="399.3" r="3.1"/><circle cx="1160.7" cy="399.8" r="3.1"/><circle cx="1161.5" cy="400.3" r="3.1"/><circle cx="1162.3" cy="400.8" r="3.1"/><circle cx="1163.1" cy="401.3" r="3.1"/><circle cx="1163.9" cy="401.8" r="3.1"/><circle cx="1164.7" cy="402.4" r="3.1"/><circle cx="1165.5" cy="402.9" r="3.1"/><circle cx="1166.3" cy="403.4" r="3.1"/><circle cx="1167.1" cy="404.0" r="3.1"/><circle cx="1167.9" cy="404.5" r="3.1"/><circle cx="1168.7" cy="405.1" r="3.1"/><circle cx="1169.5" cy="405.6" r="3.1"/><circle cx="1170.3" cy="406.2" r="3.1"/><circle cx="1171.1" cy="406.8" r="3.1"/><circle cx="1171.9" cy="407.4" r="3.1"/><circle cx="1172.7" cy="407.9" r="3.1"/><circle cx="1173.5" cy="408.5" r="3.1"/><circle cx="1174.3" cy="409.1" r="3.1"/><circle cx="1175.1" cy="409.7" r="3.1"/><circle cx="1175.9" cy="410.3" r="3.1"/><circle cx="1176.7" cy="410.9" r="3.1"/><circle cx="1177.5" cy="411.5" r="3.1"/><circle cx="1178.3" cy="412.1" r="3.1"/><circle cx="1179.1" cy="412.7" r="3.1"/><circle cx="1179.9" cy="413.3" r="3.1"/><circle cx="1180.7" cy="413.9" r="3.1"/><circle cx="1181.5" cy="414.6" r="3.1"/><circle cx="1182.3" cy="415.2" r="3.1"/><circle cx="1183.1" cy="415.8" r="3.1"/><circle cx="1183.9" cy="416.4" r="3.1"/><circle cx="1184.7" cy="417.0" r="3.1"/><circle cx="1185.5" cy="417.7" r="3.1"/><circle cx="1186.3" cy="418.3" r="3.1"/><circle cx="1187.1" cy="418.9" r="3.1"/><circle cx="1187.9" cy="419.5" r="3.1"/><circle cx="1188.7" cy="420.2" r="3.1"/><circle cx="1189.5" cy="420.8" r="3.1"/><circle cx="1190.3" cy="421.4" r="3.1"/><circle cx="1191.1" cy="422.0" r="3.1"/><circle cx="1191.9" cy="422.6" r="3.1"/><circle cx="1192.7" cy="423.3" r="3.1"/><circle cx="1193.5" cy="423.9" r="3.1"/><circle cx="1194.3" cy="424.5" r="3.1"/><circle cx="1195.1" cy="425.1" r="3.1"/><circle cx="1195.9" cy="425.7" r="3.1"/><circle cx="1196.7" cy="426.3" r="3.1"/><circle cx="1197.5" cy="426.9" r="3.1"/><circle cx="1198.3" cy="427.5" r="3.1"/><circle cx="1199.1" cy="428.1" r="3.1"/><circle cx="1199.9" cy="428.7" r="3.1"/><circle cx="1200.7" cy="429.3" r="3.1"/><circle cx="1201.5" cy="429.9" r="3.1"/><circle cx="1202.3" cy="430.5" r="3.1"/><circle cx="1203.1" cy="431.1" r="3.1"/><circle cx="1203.9" cy="431.6" r="3.1"/><circle cx="1204.7" cy="432.2" r="3.1"/><circle cx="1205.5" cy="432.8" r="3.1"/><circle cx="1206.3" cy="433.3" r="3.1"/><circle cx="1207.1" cy="433.9" r="3.1"/><circle cx="1207.9" cy="434.4" r="3.1"/><circle cx="1208.7" cy="435.0" r="3.1"/><circle cx="1209.5" cy="435.5" r="3.1"/><circle cx="1210.3" cy="436.0" r="3.1"/><circle cx="1211.1" cy="436.6" r="3.1"/><circle cx="1212.0" cy="437.1" r="3.1"/><circle cx="1212.8" cy="437.6" r="3.1"/><circle cx="1213.6" cy="438.1" r="3.1"/><circle cx="1214.4" cy="438.6" r="3.1"/><circle cx="1215.2" cy="439.1" r="3.1"/><circle cx="1216.0" cy="439.6" r="3.1"/><circle cx="1216.8" cy="440.0" r="3.1"/><circle cx="1217.6" cy="440.5" r="3.1"/><circle cx="1218.4" cy="441.0" r="3.1"/><circle cx="1219.2" cy="441.5" r="3.1"/><circle cx="1220.0" cy="441.9" r="3.1"/><circle cx="1220.8" cy="442.4" r="3.1"/><circle cx="1221.6" cy="442.8" r="3.1"/><circle cx="1222.4" cy="443.3" r="3.1"/><circle cx="1223.2" cy="443.7" r="3.1"/><circle cx="1224.0" cy="444.1" r="3.1"/><circle cx="1224.8" cy="444.6" r="3.1"/><circle cx="1225.6" cy="445.0" r="3.1"/><circle cx="1226.4" cy="445.4" r="3.1"/><circle cx="1227.2" cy="445.8" r="3.1"/><circle cx="1228.0" cy="446.2" r="3.1"/><circle cx="1228.8" cy="446.6" r="3.1"/><circle cx="1229.6" cy="447.0" r="3.1"/><circle cx="1230.4" cy="447.4" r="3.1"/><circle cx="1231.2" cy="447.8" r="3.1"/><circle cx="1232.0" cy="448.2" r="3.1"/><circle cx="1232.8" cy="448.6" r="3.1"/><circle cx="1233.6" cy="449.0" r="3.1"/><circle cx="1234.4" cy="449.4" r="3.1"/><circle cx="1235.2" cy="449.8" r="3.1"/><circle cx="1236.0" cy="450.2" r="3.1"/><circle cx="1236.8" cy="450.5" r="3.1"/><circle cx="1237.6" cy="450.9" r="3.1"/><circle cx="1238.4" cy="451.3" r="3.1"/><circle cx="1239.2" cy="451.6" r="3.1"/><circle cx="1240.0" cy="452.0" r="3.1"/><circle cx="1240.8" cy="452.4" r="3.1"/><circle cx="1241.6" cy="452.7" r="3.1"/><circle cx="1242.4" cy="453.1" r="3.1"/><circle cx="1243.2" cy="453.5" r="3.1"/><circle cx="1244.0" cy="453.8" r="3.1"/><circle cx="1244.8" cy="454.2" r="3.1"/><circle cx="1245.6" cy="454.5" r="3.1"/><circle cx="1246.4" cy="454.9" r="3.1"/><circle cx="1247.2" cy="455.3" r="3.1"/><circle cx="1248.0" cy="455.6" r="3.1"/><circle cx="1248.8" cy="456.0" r="3.1"/><circle cx="1249.6" cy="456.3" r="3.1"/><circle cx="1250.4" cy="456.7" r="3.1"/><circle cx="1251.2" cy="457.0" r="3.1"/><circle cx="1252.0" cy="457.4" r="3.1"/><circle cx="1252.8" cy="457.7" r="3.1"/><circle cx="1253.6" cy="458.1" r="3.1"/><circle cx="1254.4" cy="458.4" r="3.1"/><circle cx="1255.2" cy="458.8" r="3.1"/><circle cx="1256.0" cy="459.1" r="3.1"/><circle cx="1256.8" cy="459.5" r="3.1"/><circle cx="1257.6" cy="459.8" r="3.1"/><circle cx="1258.4" cy="460.1" r="3.1"/><circle cx="1259.2" cy="460.5" r="3.1"/><circle cx="1260.0" cy="460.8" r="3.1"/><circle cx="1260.8" cy="461.2" r="3.1"/><circle cx="1261.6" cy="461.5" r="3.1"/><circle cx="1262.4" cy="461.8" r="3.1"/><circle cx="1263.2" cy="462.2" r="3.1"/><circle cx="1264.0" cy="462.5" r="3.1"/><circle cx="1264.8" cy="462.8" r="3.1"/><circle cx="1265.6" cy="463.2" r="3.1"/><circle cx="1266.4" cy="463.5" r="3.1"/><circle cx="1267.2" cy="463.8" r="3.1"/><circle cx="1268.0" cy="464.2" r="3.1"/><circle cx="1268.8" cy="464.5" r="3.1"/><circle cx="1269.6" cy="464.8" r="3.1"/><circle cx="1270.4" cy="465.1" r="3.1"/><circle cx="1271.2" cy="465.5" r="3.1"/><circle cx="1272.0" cy="465.8" r="3.1"/><circle cx="1272.8" cy="466.1" r="3.1"/><circle cx="1273.6" cy="466.4" r="3.1"/><circle cx="1274.4" cy="466.7" r="3.1"/><circle cx="1275.2" cy="467.1" r="3.1"/><circle cx="1276.0" cy="467.4" r="3.1"/><circle cx="1276.8" cy="467.7" r="3.1"/><circle cx="1277.6" cy="468.0" r="3.1"/><circle cx="1278.4" cy="468.3" r="3.1"/><circle cx="1279.2" cy="468.6" r="3.1"/><circle cx="1280.0" cy="468.9" r="3.1"/><circle cx="1280.8" cy="469.2" r="3.1"/><circle cx="1281.6" cy="469.5" r="3.1"/><circle cx="1282.4" cy="469.9" r="3.1"/><circle cx="1283.2" cy="470.2" r="3.1"/><circle cx="1293.1" cy="473.8" r="3.1"/><circle cx="1296.1" cy="474.8" r="3.1"/><circle cx="1301.3" cy="476.6" r="3.1"/><circle cx="1304.3" cy="477.5" r="3.1"/><circle cx="1305.1" cy="477.8" r="3.1"/><circle cx="1305.9" cy="478.0" r="3.1"/><circle cx="1306.7" cy="478.3" r="3.1"/><circle cx="1307.5" cy="478.5" r="3.1"/><circle cx="1308.3" cy="478.8" r="3.1"/><circle cx="1309.1" cy="479.0" r="3.1"/><circle cx="1309.9" cy="479.3" r="3.1"/><circle cx="1310.7" cy="479.5" r="3.1"/><circle cx="1311.5" cy="479.8" r="3.1"/><circle cx="1312.3" cy="480.0" r="3.1"/><circle cx="1313.1" cy="480.2" r="3.1"/><circle cx="1315.9" cy="481.1" r="3.1"/><circle cx="1318.7" cy="481.8" r="3.1"/><circle cx="1321.6" cy="482.6" r="3.1"/><circle cx="1324.3" cy="483.4" r="3.1"/><circle cx="1325.1" cy="483.6" r="3.1"/><circle cx="1325.9" cy="483.8" r="3.1"/><circle cx="1326.7" cy="484.0" r="3.1"/><circle cx="1327.5" cy="484.2" r="3.1"/><circle cx="1328.3" cy="484.4" r="3.1"/><circle cx="1329.1" cy="484.6" r="3.1"/><circle cx="1329.9" cy="484.8" r="3.1"/><circle cx="1330.7" cy="485.0" r="3.1"/><circle cx="1331.5" cy="485.2" r="3.1"/><circle cx="1332.3" cy="485.4" r="3.1"/><circle cx="1333.1" cy="485.6" r="3.1"/><circle cx="1333.9" cy="485.8" r="3.1"/><circle cx="1334.7" cy="486.0" r="3.1"/><circle cx="1335.5" cy="486.2" r="3.1"/><circle cx="1336.3" cy="486.3" r="3.1"/><circle cx="1337.1" cy="486.5" r="3.1"/><circle cx="1337.9" cy="486.7" r="3.1"/><circle cx="1340.6" cy="487.3" r="3.1"/><circle cx="1345.6" cy="488.5" r="3.1"/><circle cx="1348.3" cy="489.1" r="3.1"/><circle cx="1351.4" cy="489.7" r="3.1"/><circle cx="1354.7" cy="490.4" r="3.1"/><circle cx="1355.5" cy="490.6" r="3.1"/><circle cx="1356.3" cy="490.8" r="3.1"/><circle cx="1357.1" cy="490.9" r="3.1"/><circle cx="1357.9" cy="491.1" r="3.1"/><circle cx="1361.1" cy="491.8" r="3.1"/><circle cx="1364.2" cy="492.4" r="3.1"/><circle cx="1371.9" cy="494.0" r="3.1"/><circle cx="1374.4" cy="494.5" r="3.1"/><circle cx="1379.3" cy="495.5" r="3.1"/><circle cx="1385.2" cy="496.7" r="3.1"/><circle cx="1387.1" cy="497.1" r="3.1"/><circle cx="1388.7" cy="497.4" r="3.1"/><circle cx="1390.6" cy="497.8" r="3.1"/><circle cx="1392.5" cy="498.2" r="3.1"/><circle cx="1395.2" cy="498.8" r="3.1"/><circle cx="1397.2" cy="499.2" r="3.1"/><circle cx="1404.8" cy="500.9" r="3.1"/><circle cx="1407.8" cy="501.5" r="3.1"/><circle cx="1410.2" cy="502.1" r="3.1"/><circle cx="1412.5" cy="502.6" r="3.1"/><circle cx="1414.2" cy="503.0" r="3.1"/><circle cx="1415.9" cy="503.4" r="3.1"/><circle cx="1426.5" cy="505.9" r="3.1"/><circle cx="1432.0" cy="507.2" r="3.1"/><circle cx="1434.2" cy="507.8" r="3.1"/><circle cx="1436.5" cy="508.3" r="3.1"/><circle cx="1449.2" cy="511.5" r="3.1"/><circle cx="1455.0" cy="512.9" r="3.1"/><circle cx="1460.8" cy="514.4" r="3.1"/><circle cx="1470.7" cy="516.9" r="3.1"/><circle cx="1475.2" cy="518.0" r="3.1"/><circle cx="1488.4" cy="521.3" r="3.1"/><circle cx="1493.5" cy="522.6" r="3.1"/><circle cx="1498.0" cy="523.7" r="3.1"/><circle cx="1519.4" cy="529.0" r="3.1"/><circle cx="1534.9" cy="532.5" r="3.1"/><circle cx="1538.0" cy="533.2" r="3.1"/><circle cx="1567.9" cy="539.4" r="3.1"/><circle cx="1606.5" cy="545.3" r="3.1"/><circle cx="1647.8" cy="548.4" r="3.1"/><circle cx="1682.3" cy="547.5" r="3.1"/><circle cx="1712.6" cy="543.6" r="3.1"/><circle cx="1713.7" cy="543.4" r="3.1"/><circle cx="1968.6" cy="94.9" r="3.1"/><circle cx="1968.6" cy="469.4" r="3.1"/></g>
</svg>
</body></html>
